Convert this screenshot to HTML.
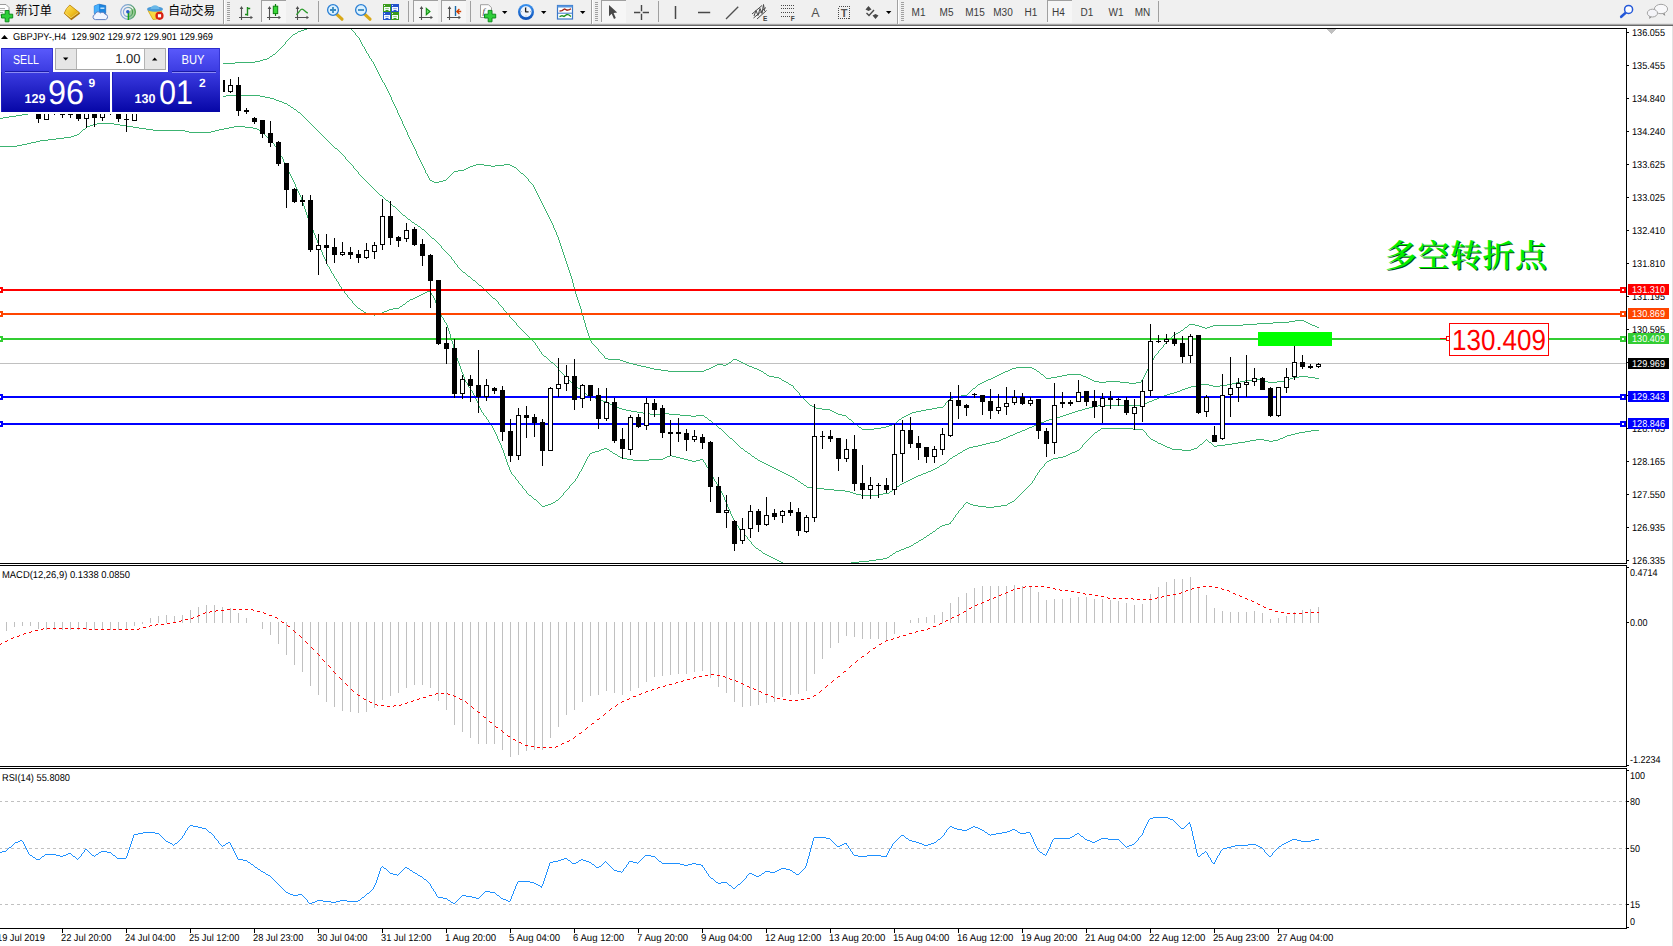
<!DOCTYPE html>
<html lang="zh"><head><meta charset="utf-8"><title>GBPJPY-,H4</title>
<style>html,body{margin:0;padding:0;background:#fff;overflow:hidden}body{width:1673px;height:946px;position:relative;font-family:"Liberation Sans","Noto Sans CJK SC",sans-serif}</style>
</head><body>
<svg width="1673" height="946" viewBox="0 0 1673 946" style="position:absolute;left:0;top:0" shape-rendering="crispEdges">
<defs><clipPath id="cm"><rect x="0" y="29" width="1626" height="534"/></clipPath><clipPath id="cr"><rect x="0" y="769" width="1626" height="159"/></clipPath><linearGradient id="gb" x1="0" y1="0" x2="0" y2="1"><stop offset="0" stop-color="#5252f4"/><stop offset="0.35" stop-color="#3030d8"/><stop offset="1" stop-color="#0808b0"/></linearGradient></defs>
<rect x="0" y="28" width="1627" height="1" fill="#000"/>
<rect x="1626" y="28" width="1" height="901" fill="#000"/>
<rect x="0" y="563" width="1627" height="1" fill="#000"/>
<rect x="0" y="564" width="1627" height="1" fill="#fff"/>
<rect x="0" y="565" width="1627" height="1" fill="#000"/>
<rect x="0" y="766" width="1627" height="1" fill="#000"/>
<rect x="0" y="767" width="1627" height="1" fill="#fff"/>
<rect x="0" y="768" width="1627" height="1" fill="#000"/>
<rect x="0" y="928" width="1627" height="1" fill="#000"/>
<rect x="1672" y="26" width="1" height="920" fill="#e3e3e3"/>
<g clip-path="url(#cm)">
<rect x="0" y="363" width="1626" height="1" fill="#c0c0c0"/>
<path d="M325 22h11v1h-11zM322 23h3v1h-3zM336 23h9v1h-9zM318 24h4v1h-4zM345 24h1v1h-1zM315 25h3v1h-3zM346 25h2v1h-2zM312 26h3v1h-3zM348 26h1v1h-1zM309 27h3v1h-3zM349 27h1v1h-1zM307 28h2v1h-2zM350 28h1v1h-1zM304 29h3v1h-3zM351 29h1v1h-1zM301 30h3v1h-3zM352 30h1v1h-1zM298 31h3v1h-3zM353 31h1v1h-1zM297 32h1v1h-1zM354 32h1v1h-1zM295 33h2v1h-2zM355 33h1v2h-1zM293 34h2v1h-2zM292 35h1v1h-1zM356 35h1v1h-1zM291 36h1v1h-1zM357 36h1v1h-1zM290 37h1v1h-1zM358 37h1v1h-1zM289 38h1v1h-1zM359 38h1v2h-1zM288 39h1v1h-1zM287 40h1v1h-1zM360 40h1v2h-1zM286 41h1v1h-1zM285 42h1v2h-1zM361 42h1v2h-1zM284 44h1v1h-1zM362 44h1v2h-1zM283 45h1v1h-1zM282 46h1v1h-1zM363 46h1v1h-1zM281 47h1v1h-1zM364 47h1v2h-1zM280 48h1v1h-1zM279 49h1v1h-1zM365 49h1v2h-1zM278 50h1v1h-1zM277 51h1v1h-1zM366 51h1v2h-1zM276 52h1v1h-1zM275 53h1v1h-1zM367 53h1v1h-1zM273 54h2v1h-2zM368 54h1v2h-1zM272 55h1v1h-1zM270 56h2v1h-2zM369 56h1v2h-1zM269 57h1v1h-1zM267 58h2v1h-2zM370 58h1v1h-1zM263 59h4v1h-4zM371 59h1v2h-1zM260 60h3v1h-3zM255 61h5v1h-5zM372 61h1v1h-1zM235 62h20v1h-20zM373 62h1v2h-1zM215 63h20v1h-20zM374 64h1v2h-1zM375 66h1v2h-1zM376 68h1v2h-1zM377 70h1v2h-1zM378 72h1v2h-1zM379 74h1v2h-1zM380 76h1v2h-1zM381 78h1v2h-1zM382 80h1v2h-1zM383 82h1v1h-1zM384 83h1v2h-1zM385 85h1v2h-1zM386 87h1v2h-1zM387 89h1v2h-1zM388 91h1v2h-1zM389 93h1v2h-1zM390 95h1v2h-1zM391 97h1v3h-1zM392 100h1v2h-1zM393 102h1v2h-1zM394 104h1v2h-1zM395 106h1v2h-1zM396 108h1v2h-1zM397 110h1v3h-1zM398 113h1v2h-1zM399 115h1v2h-1zM400 117h1v2h-1zM401 119h1v2h-1zM402 121h1v3h-1zM403 124h1v2h-1zM404 126h1v2h-1zM405 128h1v2h-1zM406 130h1v2h-1zM407 132h1v3h-1zM408 135h1v2h-1zM409 137h1v2h-1zM410 139h1v2h-1zM411 141h1v2h-1zM412 143h1v2h-1zM413 145h1v2h-1zM414 147h1v2h-1zM415 149h1v2h-1zM416 151h1v3h-1zM417 154h1v2h-1zM418 156h1v2h-1zM419 158h1v2h-1zM420 160h1v2h-1zM421 162h1v2h-1zM476 164h8v1h-8zM504 164h6v1h-6zM422 164h1v2h-1zM473 165h3v1h-3zM484 165h7v1h-7zM495 165h9v1h-9zM510 165h2v1h-2zM470 166h3v1h-3zM491 166h4v1h-4zM512 166h2v1h-2zM423 166h1v2h-1zM468 167h2v1h-2zM514 167h2v1h-2zM466 168h2v1h-2zM516 168h1v1h-1zM424 168h1v2h-1zM464 169h2v1h-2zM517 169h1v1h-1zM458 170h6v1h-6zM518 170h1v1h-1zM425 170h1v3h-1zM454 171h4v1h-4zM519 171h1v1h-1zM453 172h1v1h-1zM520 172h1v1h-1zM426 173h1v1h-1zM452 173h1v1h-1zM521 173h2v1h-2zM451 174h1v1h-1zM523 174h1v1h-1zM427 174h1v2h-1zM450 175h1v1h-1zM524 175h1v1h-1zM449 176h1v1h-1zM525 176h1v1h-1zM428 176h1v2h-1zM448 177h1v1h-1zM526 177h1v1h-1zM447 178h1v1h-1zM527 178h1v1h-1zM429 178h1v2h-1zM446 179h1v1h-1zM528 179h1v2h-1zM430 180h2v1h-2zM443 180h3v1h-3zM432 181h2v1h-2zM439 181h4v1h-4zM529 181h1v1h-1zM434 182h5v1h-5zM530 182h1v1h-1zM531 183h1v1h-1zM532 184h1v1h-1zM533 185h1v2h-1zM534 187h1v2h-1zM535 189h1v2h-1zM536 191h1v2h-1zM537 193h1v2h-1zM538 195h1v2h-1zM539 197h1v2h-1zM540 199h1v2h-1zM541 201h1v2h-1zM542 203h1v2h-1zM543 205h1v2h-1zM544 207h1v2h-1zM545 209h1v2h-1zM546 211h1v2h-1zM547 213h1v2h-1zM548 215h1v2h-1zM549 217h1v2h-1zM550 219h1v2h-1zM551 221h1v2h-1zM552 223h1v2h-1zM553 225h1v3h-1zM554 228h1v2h-1zM555 230h1v2h-1zM556 232h1v3h-1zM557 235h1v2h-1zM558 237h1v3h-1zM559 240h1v3h-1zM560 243h1v3h-1zM561 246h1v3h-1zM562 249h1v3h-1zM563 252h1v3h-1zM564 255h1v3h-1zM565 258h1v3h-1zM566 261h1v3h-1zM567 264h1v3h-1zM568 267h1v3h-1zM569 270h1v3h-1zM570 273h1v3h-1zM571 276h1v3h-1zM572 279h1v4h-1zM573 283h1v4h-1zM574 287h1v3h-1zM575 290h1v4h-1zM576 294h1v3h-1zM577 297h1v3h-1zM578 300h1v3h-1zM579 303h1v3h-1zM580 306h1v3h-1zM581 309h1v4h-1zM582 313h1v3h-1zM583 316h1v4h-1zM1295 320h9v1h-9zM584 320h1v3h-1zM1289 321h6v1h-6zM1304 321h2v1h-2zM1273 322h16v1h-16zM1306 322h2v1h-2zM1257 323h16v1h-16zM1308 323h2v1h-2zM585 323h1v4h-1zM1189 324h6v1h-6zM1243 324h14v1h-14zM1310 324h2v1h-2zM1188 325h1v1h-1zM1195 325h4v1h-4zM1213 325h30v1h-30zM1312 325h3v1h-3zM1187 326h1v1h-1zM1199 326h3v1h-3zM1210 326h3v1h-3zM1315 326h2v1h-2zM1185 327h2v1h-2zM1202 327h3v1h-3zM1207 327h3v1h-3zM1317 327h2v1h-2zM586 327h1v3h-1zM1184 328h1v1h-1zM1205 328h2v1h-2zM1183 329h1v1h-1zM1181 330h2v1h-2zM587 330h1v3h-1zM1180 331h1v1h-1zM1178 332h2v1h-2zM1176 333h2v1h-2zM588 333h1v3h-1zM1174 334h2v1h-2zM1173 335h1v1h-1zM1172 336h1v1h-1zM589 336h1v3h-1zM1171 337h1v1h-1zM1170 338h1v1h-1zM1169 339h1v1h-1zM590 339h1v2h-1zM1168 340h1v1h-1zM1167 341h1v1h-1zM591 341h1v2h-1zM1166 342h1v1h-1zM592 343h1v1h-1zM1165 343h1v1h-1zM593 344h1v1h-1zM1164 344h1v1h-1zM594 345h1v1h-1zM1163 345h1v2h-1zM595 346h1v1h-1zM596 347h1v1h-1zM1162 347h1v1h-1zM597 348h1v1h-1zM1161 348h1v1h-1zM1160 349h1v1h-1zM598 349h1v2h-1zM1159 350h1v1h-1zM599 351h1v1h-1zM1158 351h1v2h-1zM600 352h1v1h-1zM601 353h1v1h-1zM1157 353h1v1h-1zM602 354h1v1h-1zM1156 354h1v1h-1zM603 355h1v1h-1zM1155 355h1v1h-1zM604 356h1v2h-1zM1154 356h1v2h-1zM605 358h3v1h-3zM1153 358h1v2h-1zM608 359h12v1h-12zM733 359h4v1h-4zM620 360h3v1h-3zM732 360h1v1h-1zM737 360h2v1h-2zM1152 360h1v2h-1zM623 361h3v1h-3zM731 361h1v1h-1zM739 361h2v1h-2zM626 362h3v1h-3zM729 362h2v1h-2zM741 362h2v1h-2zM1151 362h1v1h-1zM629 363h4v1h-4zM728 363h1v1h-1zM743 363h2v1h-2zM1150 363h1v2h-1zM633 364h4v1h-4zM717 364h6v1h-6zM726 364h2v1h-2zM745 364h2v1h-2zM637 365h4v1h-4zM715 365h2v1h-2zM723 365h3v1h-3zM747 365h2v1h-2zM1149 365h1v2h-1zM641 366h5v1h-5zM713 366h2v1h-2zM749 366h3v1h-3zM646 367h4v1h-4zM711 367h2v1h-2zM752 367h2v1h-2zM1016 367h16v1h-16zM1148 367h1v2h-1zM650 368h4v1h-4zM709 368h2v1h-2zM754 368h3v1h-3zM1012 368h4v1h-4zM1032 368h2v1h-2zM654 369h7v1h-7zM706 369h3v1h-3zM757 369h2v1h-2zM1010 369h2v1h-2zM1034 369h2v1h-2zM1147 369h1v2h-1zM661 370h7v1h-7zM704 370h2v1h-2zM759 370h2v1h-2zM1008 370h2v1h-2zM1036 370h1v1h-1zM668 371h36v1h-36zM761 371h2v1h-2zM1005 371h3v1h-3zM1037 371h2v1h-2zM1146 371h1v2h-1zM763 372h1v1h-1zM1003 372h2v1h-2zM1039 372h1v1h-1zM764 373h2v1h-2zM1001 373h2v1h-2zM1040 373h1v1h-1zM1145 373h1v2h-1zM766 374h1v1h-1zM999 374h2v1h-2zM1041 374h2v1h-2zM1067 374h14v1h-14zM767 375h2v1h-2zM997 375h2v1h-2zM1043 375h1v1h-1zM1062 375h5v1h-5zM1081 375h2v1h-2zM1144 375h1v2h-1zM769 376h5v1h-5zM995 376h2v1h-2zM1044 376h1v1h-1zM1057 376h5v1h-5zM1083 376h3v1h-3zM774 377h5v1h-5zM993 377h2v1h-2zM1045 377h1v1h-1zM1051 377h6v1h-6zM1086 377h2v1h-2zM1143 377h1v2h-1zM779 378h2v1h-2zM991 378h2v1h-2zM1046 378h5v1h-5zM1088 378h2v1h-2zM781 379h1v1h-1zM988 379h3v1h-3zM1090 379h2v1h-2zM1142 379h1v1h-1zM782 380h2v1h-2zM986 380h2v1h-2zM1092 380h2v1h-2zM1141 380h1v2h-1zM784 381h2v1h-2zM984 381h2v1h-2zM1094 381h5v1h-5zM1106 381h14v1h-14zM786 382h2v1h-2zM982 382h2v1h-2zM1099 382h7v1h-7zM1120 382h9v1h-9zM1136 382h5v1h-5zM788 383h1v1h-1zM980 383h2v1h-2zM1129 383h7v1h-7zM789 384h2v1h-2zM978 384h2v1h-2zM791 385h2v1h-2zM977 385h1v1h-1zM976 386h1v1h-1zM793 386h1v2h-1zM975 387h1v1h-1zM794 388h1v1h-1zM973 388h2v1h-2zM795 389h1v1h-1zM972 389h1v1h-1zM796 390h1v1h-1zM971 390h1v1h-1zM797 391h1v1h-1zM970 391h1v1h-1zM798 392h1v1h-1zM969 392h1v1h-1zM968 393h1v1h-1zM799 393h1v2h-1zM967 394h1v1h-1zM800 395h1v1h-1zM961 395h6v1h-6zM801 396h1v1h-1zM957 396h4v1h-4zM802 397h1v1h-1zM953 397h4v1h-4zM803 398h1v1h-1zM950 398h3v1h-3zM804 399h1v1h-1zM949 399h1v1h-1zM805 400h1v1h-1zM948 400h1v1h-1zM806 401h1v1h-1zM947 401h1v1h-1zM807 402h1v1h-1zM946 402h1v1h-1zM808 403h1v1h-1zM945 403h1v2h-1zM809 404h1v1h-1zM810 405h2v1h-2zM944 405h1v1h-1zM812 406h2v1h-2zM943 406h1v1h-1zM814 407h2v1h-2zM937 407h6v1h-6zM816 408h6v1h-6zM932 408h5v1h-5zM822 409h8v1h-8zM926 409h6v1h-6zM830 410h2v1h-2zM921 410h5v1h-5zM832 411h2v1h-2zM916 411h5v1h-5zM834 412h2v1h-2zM912 412h4v1h-4zM836 413h2v1h-2zM910 413h2v1h-2zM838 414h4v1h-4zM908 414h2v1h-2zM842 415h4v1h-4zM906 415h2v1h-2zM846 416h1v1h-1zM904 416h2v1h-2zM847 417h1v1h-1zM902 417h2v1h-2zM848 418h1v1h-1zM901 418h1v1h-1zM849 419h2v1h-2zM899 419h2v1h-2zM851 420h1v1h-1zM898 420h1v1h-1zM852 421h1v1h-1zM897 421h1v1h-1zM853 422h1v1h-1zM896 422h1v1h-1zM854 423h2v1h-2zM894 423h2v1h-2zM856 424h1v1h-1zM892 424h2v1h-2zM857 425h1v1h-1zM889 425h3v1h-3zM858 426h1v1h-1zM886 426h3v1h-3zM859 427h2v1h-2zM881 427h5v1h-5zM861 428h1v1h-1zM874 428h7v1h-7zM862 429h12v1h-12z" fill="#3cb371"/>
<path d="M226 95h34v1h-34zM212 96h14v1h-14zM260 96h5v1h-5zM188 97h24v1h-24zM265 97h5v1h-5zM164 98h24v1h-24zM270 98h4v1h-4zM140 99h24v1h-24zM274 99h2v1h-2zM130 100h10v1h-10zM276 100h3v1h-3zM120 101h10v1h-10zM279 101h3v1h-3zM110 102h10v1h-10zM282 102h2v1h-2zM100 103h10v1h-10zM284 103h3v1h-3zM90 104h10v1h-10zM287 104h1v1h-1zM80 105h10v1h-10zM288 105h2v1h-2zM70 106h10v1h-10zM290 106h1v1h-1zM60 107h10v1h-10zM291 107h2v1h-2zM55 108h5v1h-5zM293 108h1v1h-1zM49 109h6v1h-6zM294 109h2v1h-2zM44 110h5v1h-5zM296 110h1v1h-1zM39 111h5v1h-5zM297 111h1v1h-1zM33 112h6v1h-6zM298 112h2v1h-2zM28 113h5v1h-5zM300 113h1v1h-1zM22 114h6v1h-6zM301 114h1v1h-1zM16 115h6v1h-6zM302 115h1v1h-1zM9 116h7v1h-7zM303 116h1v1h-1zM3 117h6v1h-6zM304 117h1v1h-1zM0 118h3v1h-3zM305 118h1v1h-1zM306 119h1v1h-1zM307 120h1v1h-1zM308 121h1v1h-1zM309 122h1v1h-1zM310 123h1v1h-1zM311 124h1v1h-1zM312 125h1v1h-1zM313 126h1v1h-1zM314 127h1v1h-1zM315 128h1v1h-1zM316 129h1v1h-1zM317 130h1v1h-1zM318 131h1v1h-1zM319 132h1v1h-1zM320 133h1v1h-1zM321 134h1v1h-1zM322 135h1v1h-1zM323 136h1v1h-1zM324 137h1v1h-1zM325 138h1v1h-1zM326 139h1v1h-1zM327 140h1v1h-1zM328 141h1v1h-1zM329 142h1v1h-1zM330 143h1v1h-1zM331 144h1v1h-1zM332 145h1v1h-1zM333 146h1v1h-1zM334 147h1v1h-1zM335 148h2v1h-2zM337 149h1v1h-1zM338 150h1v1h-1zM339 151h1v1h-1zM340 152h1v1h-1zM341 153h1v1h-1zM342 154h1v1h-1zM343 155h1v1h-1zM344 156h1v1h-1zM345 157h1v2h-1zM346 159h1v1h-1zM347 160h1v1h-1zM348 161h1v1h-1zM349 162h1v1h-1zM350 163h1v1h-1zM351 164h1v1h-1zM352 165h1v1h-1zM353 166h1v2h-1zM354 168h1v1h-1zM355 169h1v1h-1zM356 170h1v1h-1zM357 171h1v1h-1zM358 172h1v2h-1zM359 174h1v1h-1zM360 175h1v1h-1zM361 176h1v1h-1zM362 177h1v1h-1zM363 178h1v1h-1zM364 179h1v1h-1zM365 180h1v1h-1zM366 181h1v1h-1zM367 182h1v1h-1zM368 183h1v1h-1zM369 184h1v1h-1zM370 185h1v1h-1zM371 186h1v1h-1zM372 187h1v1h-1zM373 188h1v1h-1zM374 189h1v1h-1zM375 190h1v1h-1zM376 191h1v1h-1zM377 192h1v1h-1zM378 193h1v1h-1zM379 194h1v1h-1zM380 195h2v1h-2zM382 196h1v1h-1zM383 197h1v1h-1zM384 198h1v1h-1zM385 199h1v1h-1zM386 200h2v1h-2zM388 201h1v1h-1zM389 202h1v1h-1zM390 203h1v1h-1zM391 204h1v1h-1zM392 205h1v1h-1zM393 206h2v1h-2zM395 207h1v1h-1zM396 208h1v1h-1zM397 209h1v1h-1zM398 210h1v1h-1zM399 211h1v1h-1zM400 212h1v1h-1zM401 213h1v1h-1zM402 214h1v1h-1zM403 215h2v1h-2zM405 216h1v1h-1zM406 217h1v1h-1zM407 218h1v1h-1zM408 219h2v1h-2zM410 220h1v1h-1zM411 221h1v1h-1zM412 222h2v1h-2zM414 223h1v1h-1zM415 224h2v1h-2zM417 225h1v1h-1zM418 226h2v1h-2zM420 227h1v1h-1zM421 228h1v1h-1zM422 229h2v1h-2zM424 230h1v1h-1zM425 231h1v1h-1zM426 232h1v1h-1zM427 233h1v1h-1zM428 234h1v1h-1zM429 235h1v1h-1zM430 236h1v1h-1zM431 237h1v1h-1zM432 238h2v1h-2zM434 239h1v1h-1zM435 240h1v1h-1zM436 241h1v1h-1zM437 242h1v1h-1zM438 243h1v1h-1zM439 244h1v1h-1zM440 245h1v1h-1zM441 246h1v2h-1zM442 248h1v1h-1zM443 249h1v1h-1zM444 250h1v1h-1zM445 251h1v1h-1zM446 252h1v1h-1zM447 253h1v1h-1zM448 254h1v1h-1zM449 255h1v1h-1zM450 256h1v1h-1zM451 257h1v2h-1zM452 259h1v1h-1zM453 260h1v1h-1zM454 261h1v2h-1zM455 263h1v1h-1zM456 264h1v1h-1zM457 265h1v2h-1zM458 267h1v1h-1zM459 268h1v1h-1zM460 269h1v1h-1zM461 270h1v1h-1zM462 271h1v1h-1zM463 272h2v1h-2zM465 273h1v1h-1zM466 274h1v1h-1zM467 275h1v1h-1zM468 276h2v1h-2zM470 277h1v1h-1zM471 278h1v1h-1zM472 279h1v1h-1zM473 280h2v1h-2zM475 281h1v1h-1zM476 282h1v1h-1zM477 283h1v1h-1zM478 284h1v1h-1zM479 285h2v1h-2zM481 286h1v1h-1zM482 287h1v1h-1zM483 288h1v1h-1zM484 289h1v1h-1zM485 290h1v1h-1zM486 291h1v1h-1zM487 292h1v1h-1zM488 293h1v1h-1zM489 294h1v1h-1zM490 295h1v1h-1zM491 296h1v1h-1zM492 297h1v1h-1zM493 298h2v1h-2zM495 299h1v1h-1zM496 300h1v1h-1zM497 301h1v1h-1zM498 302h1v2h-1zM499 304h1v1h-1zM500 305h1v1h-1zM501 306h1v1h-1zM502 307h1v1h-1zM503 308h1v2h-1zM504 310h1v1h-1zM505 311h1v1h-1zM506 312h1v1h-1zM507 313h1v1h-1zM508 314h1v1h-1zM509 315h1v2h-1zM510 317h1v1h-1zM511 318h1v1h-1zM512 319h1v1h-1zM513 320h1v1h-1zM514 321h1v1h-1zM515 322h1v1h-1zM516 323h1v2h-1zM517 325h1v1h-1zM518 326h1v1h-1zM519 327h1v1h-1zM520 328h1v1h-1zM521 329h1v1h-1zM522 330h1v1h-1zM523 331h1v1h-1zM524 332h1v1h-1zM525 333h1v1h-1zM526 334h1v1h-1zM527 335h1v1h-1zM528 336h1v1h-1zM529 337h1v1h-1zM530 338h1v1h-1zM531 339h1v1h-1zM532 340h1v1h-1zM533 341h1v1h-1zM534 342h1v1h-1zM535 343h1v2h-1zM536 345h1v1h-1zM537 346h1v2h-1zM538 348h1v1h-1zM539 349h1v2h-1zM540 351h1v1h-1zM541 352h1v2h-1zM542 354h1v1h-1zM543 355h1v1h-1zM544 356h2v1h-2zM546 357h1v1h-1zM547 358h1v1h-1zM548 359h1v1h-1zM549 360h1v1h-1zM550 361h1v1h-1zM551 362h2v1h-2zM553 363h1v1h-1zM554 364h1v1h-1zM555 365h1v1h-1zM556 366h1v1h-1zM557 367h1v1h-1zM558 368h1v2h-1zM559 370h1v1h-1zM560 371h1v1h-1zM561 372h1v1h-1zM562 373h1v1h-1zM563 374h1v1h-1zM564 375h1v1h-1zM565 376h1v1h-1zM1299 376h9v1h-9zM566 377h1v1h-1zM1293 377h6v1h-6zM1308 377h7v1h-7zM567 378h1v1h-1zM1290 378h3v1h-3zM1315 378h4v1h-4zM568 379h1v1h-1zM1255 379h7v1h-7zM1287 379h3v1h-3zM569 380h1v1h-1zM1245 380h10v1h-10zM1262 380h3v1h-3zM1284 380h3v1h-3zM570 381h1v1h-1zM1240 381h5v1h-5zM1265 381h3v1h-3zM1277 381h7v1h-7zM571 382h2v1h-2zM1236 382h4v1h-4zM1268 382h9v1h-9zM573 383h1v1h-1zM1232 383h4v1h-4zM574 384h1v1h-1zM1200 384h9v1h-9zM1227 384h5v1h-5zM575 385h1v1h-1zM1196 385h4v1h-4zM1209 385h4v1h-4zM1220 385h7v1h-7zM576 386h1v1h-1zM1191 386h5v1h-5zM1213 386h7v1h-7zM577 387h1v1h-1zM1188 387h3v1h-3zM578 388h2v1h-2zM1185 388h3v1h-3zM580 389h1v1h-1zM1182 389h3v1h-3zM581 390h1v1h-1zM1180 390h2v1h-2zM582 391h1v1h-1zM1177 391h3v1h-3zM583 392h2v1h-2zM1174 392h3v1h-3zM585 393h1v1h-1zM1170 393h4v1h-4zM586 394h1v1h-1zM1167 394h3v1h-3zM587 395h3v1h-3zM1164 395h3v1h-3zM590 396h2v1h-2zM1162 396h2v1h-2zM592 397h3v1h-3zM1159 397h3v1h-3zM595 398h2v1h-2zM1157 398h2v1h-2zM597 399h3v1h-3zM1154 399h3v1h-3zM600 400h3v1h-3zM1152 400h2v1h-2zM603 401h3v1h-3zM1149 401h3v1h-3zM606 402h2v1h-2zM1147 402h2v1h-2zM608 403h2v1h-2zM1144 403h3v1h-3zM610 404h2v1h-2zM1142 404h2v1h-2zM612 405h2v1h-2zM1098 405h44v1h-44zM614 406h2v1h-2zM1093 406h5v1h-5zM616 407h3v1h-3zM1089 407h4v1h-4zM619 408h3v1h-3zM1085 408h4v1h-4zM622 409h4v1h-4zM1082 409h3v1h-3zM626 410h5v1h-5zM1078 410h4v1h-4zM631 411h6v1h-6zM1075 411h3v1h-3zM637 412h6v1h-6zM1072 412h3v1h-3zM643 413h7v1h-7zM660 413h9v1h-9zM1069 413h3v1h-3zM650 414h10v1h-10zM669 414h11v1h-11zM1066 414h3v1h-3zM680 415h11v1h-11zM696 415h8v1h-8zM1063 415h3v1h-3zM691 416h5v1h-5zM704 416h1v1h-1zM1060 416h3v1h-3zM705 417h2v1h-2zM1057 417h3v1h-3zM707 418h1v1h-1zM1053 418h4v1h-4zM708 419h1v1h-1zM1049 419h4v1h-4zM709 420h2v1h-2zM1046 420h3v1h-3zM711 421h1v1h-1zM1044 421h2v1h-2zM712 422h1v1h-1zM1041 422h3v1h-3zM713 423h1v1h-1zM1039 423h2v1h-2zM714 424h2v1h-2zM1037 424h2v1h-2zM716 425h1v1h-1zM1034 425h3v1h-3zM717 426h1v1h-1zM1032 426h2v1h-2zM718 427h1v1h-1zM1029 427h3v1h-3zM719 428h2v1h-2zM1027 428h2v1h-2zM721 429h1v1h-1zM1025 429h2v1h-2zM722 430h1v1h-1zM1022 430h3v1h-3zM723 431h1v1h-1zM1020 431h2v1h-2zM724 432h1v1h-1zM1017 432h3v1h-3zM725 433h1v1h-1zM1015 433h2v1h-2zM726 434h1v1h-1zM1013 434h2v1h-2zM727 435h1v1h-1zM1010 435h3v1h-3zM728 436h1v1h-1zM1008 436h2v1h-2zM729 437h1v1h-1zM1006 437h2v1h-2zM730 438h2v1h-2zM1003 438h3v1h-3zM732 439h1v1h-1zM1001 439h2v1h-2zM733 440h1v1h-1zM999 440h2v1h-2zM734 441h1v1h-1zM995 441h4v1h-4zM735 442h1v1h-1zM990 442h5v1h-5zM736 443h1v1h-1zM986 443h4v1h-4zM737 444h1v1h-1zM982 444h4v1h-4zM738 445h1v1h-1zM978 445h4v1h-4zM739 446h1v1h-1zM973 446h5v1h-5zM740 447h1v1h-1zM969 447h4v1h-4zM741 448h2v1h-2zM967 448h2v1h-2zM743 449h1v1h-1zM965 449h2v1h-2zM744 450h1v1h-1zM963 450h2v1h-2zM745 451h2v1h-2zM962 451h1v1h-1zM747 452h1v1h-1zM960 452h2v1h-2zM748 453h2v1h-2zM958 453h2v1h-2zM750 454h1v1h-1zM957 454h1v1h-1zM751 455h1v1h-1zM955 455h2v1h-2zM752 456h2v1h-2zM953 456h2v1h-2zM754 457h1v1h-1zM952 457h1v1h-1zM755 458h2v1h-2zM950 458h2v1h-2zM757 459h1v1h-1zM949 459h1v1h-1zM758 460h2v1h-2zM948 460h1v1h-1zM760 461h2v1h-2zM947 461h1v1h-1zM762 462h2v1h-2zM946 462h1v1h-1zM764 463h2v1h-2zM944 463h2v1h-2zM766 464h2v1h-2zM942 464h2v1h-2zM768 465h2v1h-2zM940 465h2v1h-2zM770 466h2v1h-2zM939 466h1v1h-1zM772 467h2v1h-2zM937 467h2v1h-2zM774 468h2v1h-2zM935 468h2v1h-2zM776 469h2v1h-2zM933 469h2v1h-2zM778 470h2v1h-2zM931 470h2v1h-2zM780 471h2v1h-2zM928 471h3v1h-3zM782 472h2v1h-2zM926 472h2v1h-2zM784 473h2v1h-2zM923 473h3v1h-3zM786 474h2v1h-2zM921 474h2v1h-2zM788 475h2v1h-2zM918 475h3v1h-3zM790 476h2v1h-2zM916 476h2v1h-2zM792 477h2v1h-2zM914 477h2v1h-2zM794 478h1v1h-1zM912 478h2v1h-2zM795 479h2v1h-2zM910 479h2v1h-2zM797 480h1v1h-1zM908 480h2v1h-2zM798 481h2v1h-2zM906 481h2v1h-2zM800 482h1v1h-1zM904 482h2v1h-2zM801 483h2v1h-2zM902 483h2v1h-2zM803 484h1v1h-1zM900 484h2v1h-2zM804 485h2v1h-2zM899 485h1v1h-1zM806 486h1v1h-1zM897 486h2v1h-2zM807 487h7v1h-7zM896 487h1v1h-1zM814 488h10v1h-10zM895 488h1v1h-1zM824 489h10v1h-10zM893 489h2v1h-2zM834 490h11v1h-11zM892 490h1v1h-1zM845 491h5v1h-5zM890 491h2v1h-2zM850 492h3v1h-3zM889 492h1v1h-1zM853 493h3v1h-3zM883 493h6v1h-6zM856 494h5v1h-5zM878 494h5v1h-5zM861 495h17v1h-17z" fill="#3cb371"/>
<path d="M97 123h17v1h-17zM93 124h4v1h-4zM114 124h6v1h-6zM90 125h3v1h-3zM120 125h6v1h-6zM87 126h3v1h-3zM126 126h7v1h-7zM234 126h11v1h-11zM86 127h1v1h-1zM133 127h6v1h-6zM229 127h5v1h-5zM245 127h8v1h-8zM85 128h1v1h-1zM139 128h7v1h-7zM224 128h5v1h-5zM253 128h4v1h-4zM83 129h2v1h-2zM146 129h7v1h-7zM219 129h5v1h-5zM257 129h2v1h-2zM82 130h1v1h-1zM153 130h32v1h-32zM215 130h4v1h-4zM259 130h1v1h-1zM81 131h1v1h-1zM185 131h4v1h-4zM211 131h4v1h-4zM260 131h1v1h-1zM80 132h1v1h-1zM189 132h22v1h-22zM261 132h1v1h-1zM79 133h1v1h-1zM262 133h2v1h-2zM77 134h2v1h-2zM264 134h1v1h-1zM74 135h3v1h-3zM265 135h1v1h-1zM71 136h3v1h-3zM266 136h1v1h-1zM64 137h7v1h-7zM267 137h1v1h-1zM56 138h8v1h-8zM268 138h1v1h-1zM48 139h8v1h-8zM269 139h1v1h-1zM40 140h8v1h-8zM270 140h1v1h-1zM36 141h4v1h-4zM271 141h1v1h-1zM31 142h5v1h-5zM272 142h1v1h-1zM27 143h4v1h-4zM273 143h1v1h-1zM22 144h5v1h-5zM274 144h1v2h-1zM17 145h5v1h-5zM0 146h17v1h-17zM275 146h1v1h-1zM276 147h1v2h-1zM277 149h1v2h-1zM278 151h1v1h-1zM279 152h1v2h-1zM280 154h1v2h-1zM281 156h1v1h-1zM282 157h1v2h-1zM283 159h1v3h-1zM284 162h1v2h-1zM285 164h1v2h-1zM286 166h1v2h-1zM287 168h1v2h-1zM288 170h1v2h-1zM289 172h1v2h-1zM290 174h1v2h-1zM291 176h1v2h-1zM292 178h1v2h-1zM293 180h1v2h-1zM294 182h1v2h-1zM295 184h1v3h-1zM296 187h1v2h-1zM297 189h1v2h-1zM298 191h1v2h-1zM299 193h1v2h-1zM300 195h1v2h-1zM301 197h1v3h-1zM302 200h1v3h-1zM303 203h1v3h-1zM304 206h1v3h-1zM305 209h1v3h-1zM306 212h1v3h-1zM307 215h1v3h-1zM308 218h1v2h-1zM309 220h1v3h-1zM310 223h1v2h-1zM311 225h1v3h-1zM312 228h1v2h-1zM313 230h1v3h-1zM314 233h1v2h-1zM315 235h1v3h-1zM316 238h1v2h-1zM317 240h1v3h-1zM318 243h1v2h-1zM319 245h1v3h-1zM320 248h1v2h-1zM321 250h1v2h-1zM322 252h1v3h-1zM323 255h1v2h-1zM324 257h1v2h-1zM325 259h1v2h-1zM326 261h1v3h-1zM327 264h1v2h-1zM328 266h1v1h-1zM329 267h1v2h-1zM330 269h1v2h-1zM331 271h1v2h-1zM332 273h1v1h-1zM333 274h1v2h-1zM334 276h1v2h-1zM335 278h1v1h-1zM336 279h1v2h-1zM337 281h1v1h-1zM338 282h1v2h-1zM339 284h1v2h-1zM340 286h1v1h-1zM341 287h1v2h-1zM342 289h1v1h-1zM343 290h1v1h-1zM429 290h1v2h-1zM427 291h2v1h-2zM344 291h1v2h-1zM425 292h2v1h-2zM430 292h1v1h-1zM345 293h1v1h-1zM423 293h2v1h-2zM431 293h1v2h-1zM346 294h1v1h-1zM421 294h2v1h-2zM419 295h2v1h-2zM432 295h1v1h-1zM347 295h1v2h-1zM417 296h2v1h-2zM433 296h1v2h-1zM348 297h1v1h-1zM415 297h2v1h-2zM349 298h1v1h-1zM413 298h2v1h-2zM434 298h1v2h-1zM350 299h1v1h-1zM410 299h3v1h-3zM351 300h1v1h-1zM409 300h1v1h-1zM435 300h1v3h-1zM407 301h2v1h-2zM352 301h1v2h-1zM406 302h1v1h-1zM353 303h1v1h-1zM405 303h1v1h-1zM436 303h1v2h-1zM354 304h1v1h-1zM403 304h2v1h-2zM355 305h1v1h-1zM402 305h1v1h-1zM437 305h1v2h-1zM356 306h1v1h-1zM400 306h2v1h-2zM357 307h1v1h-1zM399 307h1v1h-1zM438 307h1v3h-1zM358 308h2v1h-2zM393 308h6v1h-6zM360 309h1v1h-1zM389 309h4v1h-4zM361 310h2v1h-2zM387 310h2v1h-2zM439 310h1v2h-1zM363 311h1v1h-1zM384 311h3v1h-3zM364 312h2v1h-2zM382 312h2v1h-2zM440 312h1v2h-1zM366 313h4v1h-4zM379 313h3v1h-3zM370 314h4v1h-4zM375 314h4v1h-4zM441 314h1v3h-1zM374 315h1v1h-1zM442 317h1v1h-1zM443 318h1v2h-1zM444 320h1v2h-1zM445 322h1v1h-1zM446 323h1v2h-1zM447 325h1v3h-1zM448 328h1v3h-1zM449 331h1v3h-1zM450 334h1v4h-1zM451 338h1v3h-1zM452 341h1v3h-1zM453 344h1v4h-1zM454 348h1v3h-1zM455 351h1v4h-1zM456 355h1v3h-1zM457 358h1v3h-1zM458 361h1v2h-1zM459 363h1v3h-1zM460 366h1v3h-1zM461 369h1v3h-1zM462 372h1v2h-1zM463 374h1v3h-1zM464 377h1v3h-1zM465 380h1v2h-1zM466 382h1v1h-1zM467 383h1v2h-1zM468 385h1v2h-1zM469 387h1v1h-1zM470 388h1v2h-1zM471 390h1v1h-1zM472 391h1v2h-1zM473 393h1v2h-1zM474 395h1v2h-1zM475 397h1v2h-1zM476 399h1v2h-1zM477 401h1v2h-1zM478 403h1v3h-1zM479 406h1v2h-1zM480 408h1v2h-1zM481 410h1v2h-1zM482 412h1v1h-1zM483 413h1v2h-1zM484 415h1v1h-1zM485 416h1v1h-1zM486 417h1v2h-1zM487 419h1v1h-1zM488 420h1v2h-1zM489 422h1v1h-1zM490 423h1v2h-1zM491 425h1v1h-1zM492 426h1v2h-1zM1101 428h32v1h-32zM493 428h1v2h-1zM1100 429h1v1h-1zM1133 429h10v1h-10zM1098 430h2v1h-2zM1143 430h1v1h-1zM1311 430h8v1h-8zM494 430h1v2h-1zM1097 431h1v1h-1zM1144 431h1v1h-1zM1305 431h6v1h-6zM1095 432h2v1h-2zM1145 432h1v1h-1zM1299 432h6v1h-6zM495 432h1v2h-1zM1094 433h1v1h-1zM1295 433h4v1h-4zM1146 433h1v2h-1zM1093 434h1v1h-1zM1291 434h4v1h-4zM496 434h1v2h-1zM1092 435h1v1h-1zM1147 435h1v1h-1zM1287 435h4v1h-4zM1091 436h1v1h-1zM1148 436h1v1h-1zM1285 436h2v1h-2zM497 436h1v3h-1zM1090 437h1v1h-1zM1149 437h1v1h-1zM1283 437h2v1h-2zM1089 438h1v1h-1zM1150 438h1v1h-1zM1280 438h3v1h-3zM1088 439h1v1h-1zM1151 439h2v1h-2zM1206 439h1v1h-1zM1256 439h8v1h-8zM1278 439h2v1h-2zM498 439h1v2h-1zM1087 440h1v1h-1zM1153 440h2v1h-2zM1205 440h1v1h-1zM1207 440h1v1h-1zM1250 440h6v1h-6zM1264 440h5v1h-5zM1273 440h5v1h-5zM1086 441h1v1h-1zM1155 441h2v1h-2zM1204 441h1v1h-1zM1208 441h1v1h-1zM1245 441h5v1h-5zM1269 441h4v1h-4zM499 441h1v2h-1zM1085 442h1v1h-1zM1157 442h1v1h-1zM1203 442h1v1h-1zM1209 442h2v1h-2zM1238 442h7v1h-7zM1084 443h1v1h-1zM1158 443h3v1h-3zM1202 443h1v1h-1zM1211 443h1v1h-1zM1232 443h6v1h-6zM500 443h1v2h-1zM1083 444h1v1h-1zM1161 444h2v1h-2zM1200 444h2v1h-2zM1212 444h1v1h-1zM1225 444h7v1h-7zM1163 445h2v1h-2zM1199 445h1v1h-1zM1213 445h1v1h-1zM1217 445h8v1h-8zM1082 445h1v2h-1zM501 445h1v3h-1zM1165 446h2v1h-2zM1198 446h1v1h-1zM1214 446h3v1h-3zM1081 447h1v1h-1zM1167 447h3v1h-3zM1197 447h1v1h-1zM604 448h3v1h-3zM1080 448h1v1h-1zM1170 448h2v1h-2zM1194 448h3v1h-3zM502 448h1v2h-1zM601 449h3v1h-3zM607 449h2v1h-2zM1079 449h1v1h-1zM1172 449h10v1h-10zM1191 449h3v1h-3zM599 450h2v1h-2zM609 450h1v1h-1zM1077 450h2v1h-2zM1182 450h9v1h-9zM503 450h1v3h-1zM595 451h4v1h-4zM610 451h2v1h-2zM1075 451h2v1h-2zM592 452h3v1h-3zM612 452h1v1h-1zM1072 452h3v1h-3zM590 453h2v1h-2zM613 453h2v1h-2zM1070 453h2v1h-2zM504 453h1v3h-1zM615 454h2v1h-2zM1068 454h2v1h-2zM589 454h1v2h-1zM617 455h1v1h-1zM670 455h2v1h-2zM1066 455h2v1h-2zM588 456h1v1h-1zM618 456h2v1h-2zM667 456h3v1h-3zM672 456h4v1h-4zM1063 456h3v1h-3zM505 456h1v3h-1zM620 457h2v1h-2zM665 457h2v1h-2zM676 457h4v1h-4zM1058 457h5v1h-5zM587 457h1v2h-1zM622 458h5v1h-5zM663 458h2v1h-2zM680 458h4v1h-4zM1053 458h5v1h-5zM627 459h6v1h-6zM649 459h14v1h-14zM684 459h4v1h-4zM700 459h3v1h-3zM1051 459h2v1h-2zM586 459h1v2h-1zM506 459h1v3h-1zM633 460h16v1h-16zM688 460h4v1h-4zM696 460h4v1h-4zM1049 460h2v1h-2zM703 460h1v2h-1zM692 461h4v1h-4zM1047 461h2v1h-2zM585 461h1v2h-1zM704 462h1v1h-1zM1046 462h1v1h-1zM507 462h1v3h-1zM1045 463h1v1h-1zM584 463h1v2h-1zM705 463h1v2h-1zM1044 464h1v2h-1zM508 465h1v2h-1zM583 465h1v2h-1zM706 465h1v2h-1zM1043 466h1v1h-1zM707 467h1v1h-1zM1042 467h1v1h-1zM582 467h1v2h-1zM509 467h1v3h-1zM1041 468h1v1h-1zM708 468h1v2h-1zM1040 469h1v1h-1zM581 469h1v2h-1zM510 470h1v2h-1zM709 470h1v2h-1zM1039 470h1v2h-1zM580 471h1v1h-1zM1038 472h1v1h-1zM511 472h1v2h-1zM579 472h1v2h-1zM710 472h1v2h-1zM1037 473h1v2h-1zM512 474h1v1h-1zM711 474h1v1h-1zM578 474h1v2h-1zM513 475h1v1h-1zM1036 475h1v1h-1zM712 475h1v2h-1zM514 476h1v1h-1zM577 476h1v2h-1zM1035 476h1v2h-1zM515 477h1v2h-1zM713 477h1v2h-1zM576 478h1v1h-1zM1034 478h1v2h-1zM516 479h1v1h-1zM575 479h1v2h-1zM714 479h1v2h-1zM517 480h1v1h-1zM1033 480h1v1h-1zM574 481h1v1h-1zM715 481h1v1h-1zM518 481h1v2h-1zM1032 481h1v2h-1zM573 482h1v1h-1zM716 482h1v2h-1zM519 483h1v1h-1zM572 483h1v1h-1zM1031 483h1v1h-1zM520 484h1v1h-1zM571 484h1v1h-1zM1030 484h1v1h-1zM717 484h1v2h-1zM521 485h1v1h-1zM570 485h1v1h-1zM1029 485h1v1h-1zM1028 486h1v1h-1zM522 486h1v2h-1zM569 486h1v2h-1zM718 486h1v2h-1zM1027 487h1v1h-1zM523 488h1v1h-1zM568 488h1v1h-1zM1026 488h1v1h-1zM719 488h1v2h-1zM524 489h1v1h-1zM567 489h1v1h-1zM1025 489h1v1h-1zM525 490h1v1h-1zM566 490h1v1h-1zM720 490h1v1h-1zM1024 490h1v1h-1zM565 491h1v1h-1zM1023 491h1v1h-1zM526 491h1v2h-1zM721 491h1v2h-1zM564 492h1v1h-1zM1022 492h1v1h-1zM527 493h1v1h-1zM1021 493h1v1h-1zM563 493h1v2h-1zM722 493h1v2h-1zM528 494h1v1h-1zM1020 494h1v1h-1zM529 495h2v1h-2zM562 495h1v1h-1zM1019 495h1v1h-1zM723 495h1v2h-1zM531 496h1v1h-1zM561 496h1v1h-1zM1018 496h1v1h-1zM532 497h1v1h-1zM560 497h1v1h-1zM1017 497h1v1h-1zM724 497h1v3h-1zM533 498h1v1h-1zM559 498h1v1h-1zM1016 498h1v1h-1zM534 499h2v1h-2zM558 499h1v1h-1zM1015 499h1v1h-1zM536 500h1v1h-1zM556 500h2v1h-2zM1014 500h1v1h-1zM725 500h1v2h-1zM537 501h1v1h-1zM555 501h1v1h-1zM1012 501h2v1h-2zM538 502h1v1h-1zM553 502h2v1h-2zM966 502h2v1h-2zM1010 502h2v1h-2zM726 502h1v2h-1zM539 503h1v1h-1zM551 503h2v1h-2zM965 503h1v1h-1zM968 503h2v1h-2zM1008 503h2v1h-2zM540 504h1v1h-1zM548 504h3v1h-3zM964 504h1v1h-1zM970 504h3v1h-3zM1007 504h1v1h-1zM727 504h1v3h-1zM541 505h1v1h-1zM545 505h3v1h-3zM973 505h5v1h-5zM1001 505h6v1h-6zM963 505h1v2h-1zM542 506h3v1h-3zM978 506h8v1h-8zM994 506h7v1h-7zM962 507h1v1h-1zM986 507h8v1h-8zM728 507h1v2h-1zM961 508h1v1h-1zM960 509h1v1h-1zM729 509h1v2h-1zM959 510h1v1h-1zM958 511h1v2h-1zM730 511h1v3h-1zM957 513h1v1h-1zM956 514h1v1h-1zM731 514h1v2h-1zM955 515h1v2h-1zM732 516h1v2h-1zM954 517h1v1h-1zM733 518h1v2h-1zM953 518h1v2h-1zM734 520h1v1h-1zM952 520h1v1h-1zM951 521h1v1h-1zM735 521h1v2h-1zM950 522h1v2h-1zM949 523h1v1h-1zM736 523h1v2h-1zM945 524h4v1h-4zM737 525h1v1h-1zM942 525h3v1h-3zM940 526h2v1h-2zM738 526h1v2h-1zM939 527h1v1h-1zM937 528h2v1h-2zM739 528h1v2h-1zM936 529h1v1h-1zM740 530h1v1h-1zM935 530h1v1h-1zM741 531h1v1h-1zM933 531h2v1h-2zM742 532h1v1h-1zM932 532h1v1h-1zM743 533h1v1h-1zM930 533h2v1h-2zM744 534h1v1h-1zM929 534h1v1h-1zM745 535h1v1h-1zM927 535h2v1h-2zM746 536h1v1h-1zM926 536h1v1h-1zM924 537h2v1h-2zM747 537h1v2h-1zM923 538h1v1h-1zM748 539h1v1h-1zM921 539h2v1h-2zM749 540h1v1h-1zM919 540h2v1h-2zM750 541h1v1h-1zM918 541h1v1h-1zM916 542h2v1h-2zM751 542h1v2h-1zM914 543h2v1h-2zM752 544h1v1h-1zM913 544h1v1h-1zM753 545h1v1h-1zM911 545h2v1h-2zM754 546h1v1h-1zM909 546h2v1h-2zM755 547h1v1h-1zM906 547h3v1h-3zM756 548h2v1h-2zM904 548h2v1h-2zM758 549h1v1h-1zM901 549h3v1h-3zM759 550h2v1h-2zM899 550h2v1h-2zM761 551h1v1h-1zM896 551h3v1h-3zM762 552h1v1h-1zM895 552h1v1h-1zM763 553h2v1h-2zM893 553h2v1h-2zM765 554h2v1h-2zM892 554h1v1h-1zM767 555h2v1h-2zM890 555h2v1h-2zM769 556h2v1h-2zM889 556h1v1h-1zM771 557h2v1h-2zM887 557h2v1h-2zM773 558h2v1h-2zM883 558h4v1h-4zM775 559h2v1h-2zM876 559h7v1h-7zM777 560h2v1h-2zM869 560h7v1h-7zM779 561h2v1h-2zM859 561h10v1h-10zM781 562h2v1h-2zM851 562h8v1h-8zM783 563h3v1h-3zM848 563h3v1h-3zM786 564h3v1h-3zM846 564h2v1h-2zM789 565h2v1h-2zM843 565h3v1h-3zM791 566h3v1h-3zM840 566h3v1h-3zM794 567h3v1h-3zM838 567h2v1h-2zM797 568h3v1h-3zM835 568h3v1h-3zM800 569h5v1h-5zM828 569h7v1h-7zM805 570h5v1h-5zM822 570h6v1h-6zM810 571h12v1h-12z" fill="#3cb371"/>
<rect x="0" y="289" width="1626" height="2" fill="#ff0000"/>
<rect x="0" y="313" width="1626" height="2" fill="#ff4500"/>
<rect x="0" y="338" width="1626" height="2" fill="#32cd32"/>
<rect x="0" y="396" width="1626" height="2" fill="#0000ff"/>
<rect x="0" y="423" width="1626" height="2" fill="#0000ff"/>
<rect x="38" y="105" width="1" height="18" fill="#000"/>
<rect x="36" y="108" width="5" height="11" fill="#000"/>
<rect x="46" y="105" width="1" height="15" fill="#000"/>
<rect x="44" y="110" width="5" height="10" fill="#000"/>
<rect x="45" y="111" width="3" height="8" fill="#fff"/>
<rect x="54" y="105" width="1" height="10" fill="#000"/>
<rect x="52" y="108" width="5" height="4" fill="#000"/>
<rect x="62" y="105" width="1" height="13" fill="#000"/>
<rect x="60" y="114" width="5" height="1" fill="#000"/>
<rect x="70" y="105" width="1" height="13" fill="#000"/>
<rect x="68" y="114" width="5" height="1" fill="#000"/>
<rect x="78" y="105" width="1" height="16" fill="#000"/>
<rect x="76" y="108" width="5" height="11" fill="#000"/>
<rect x="86" y="105" width="1" height="23" fill="#000"/>
<rect x="84" y="110" width="5" height="9" fill="#000"/>
<rect x="85" y="111" width="3" height="7" fill="#fff"/>
<rect x="94" y="105" width="1" height="22" fill="#000"/>
<rect x="92" y="108" width="5" height="10" fill="#000"/>
<rect x="102" y="105" width="1" height="16" fill="#000"/>
<rect x="100" y="110" width="5" height="8" fill="#000"/>
<rect x="101" y="111" width="3" height="6" fill="#fff"/>
<rect x="110" y="105" width="1" height="10" fill="#000"/>
<rect x="108" y="108" width="5" height="4" fill="#000"/>
<rect x="118" y="105" width="1" height="17" fill="#000"/>
<rect x="116" y="108" width="5" height="11" fill="#000"/>
<rect x="126" y="105" width="1" height="27" fill="#000"/>
<rect x="124" y="119" width="5" height="1" fill="#000"/>
<rect x="134" y="105" width="1" height="16" fill="#000"/>
<rect x="132" y="110" width="5" height="11" fill="#000"/>
<rect x="133" y="111" width="3" height="9" fill="#fff"/>
<rect x="222" y="77" width="1" height="16" fill="#000"/>
<rect x="220" y="80" width="5" height="12" fill="#000"/>
<rect x="230" y="79" width="1" height="14" fill="#000"/>
<rect x="228" y="85" width="5" height="7" fill="#000"/>
<rect x="229" y="86" width="3" height="5" fill="#fff"/>
<rect x="238" y="77" width="1" height="39" fill="#000"/>
<rect x="236" y="85" width="5" height="26" fill="#000"/>
<rect x="246" y="108" width="1" height="6" fill="#000"/>
<rect x="244" y="110" width="5" height="2" fill="#000"/>
<rect x="254" y="117" width="1" height="7" fill="#000"/>
<rect x="252" y="118" width="5" height="4" fill="#000"/>
<rect x="262" y="120" width="1" height="18" fill="#000"/>
<rect x="260" y="120" width="5" height="14" fill="#000"/>
<rect x="270" y="121" width="1" height="26" fill="#000"/>
<rect x="268" y="133" width="5" height="10" fill="#000"/>
<rect x="278" y="141" width="1" height="25" fill="#000"/>
<rect x="276" y="142" width="5" height="22" fill="#000"/>
<rect x="286" y="163" width="1" height="45" fill="#000"/>
<rect x="284" y="163" width="5" height="27" fill="#000"/>
<rect x="294" y="188" width="1" height="15" fill="#000"/>
<rect x="292" y="189" width="5" height="13" fill="#000"/>
<rect x="302" y="195" width="1" height="11" fill="#000"/>
<rect x="300" y="200" width="5" height="2" fill="#000"/>
<rect x="310" y="195" width="1" height="57" fill="#000"/>
<rect x="308" y="200" width="5" height="50" fill="#000"/>
<rect x="318" y="234" width="1" height="41" fill="#000"/>
<rect x="316" y="245" width="5" height="5" fill="#000"/>
<rect x="317" y="246" width="3" height="3" fill="#fff"/>
<rect x="326" y="234" width="1" height="30" fill="#000"/>
<rect x="324" y="245" width="5" height="3" fill="#000"/>
<rect x="334" y="238" width="1" height="25" fill="#000"/>
<rect x="332" y="247" width="5" height="8" fill="#000"/>
<rect x="342" y="242" width="1" height="14" fill="#000"/>
<rect x="340" y="252" width="5" height="3" fill="#000"/>
<rect x="341" y="253" width="3" height="1" fill="#fff"/>
<rect x="350" y="247" width="1" height="12" fill="#000"/>
<rect x="348" y="252" width="5" height="3" fill="#000"/>
<rect x="358" y="250" width="1" height="13" fill="#000"/>
<rect x="356" y="254" width="5" height="4" fill="#000"/>
<rect x="366" y="243" width="1" height="16" fill="#000"/>
<rect x="364" y="250" width="5" height="8" fill="#000"/>
<rect x="365" y="251" width="3" height="6" fill="#fff"/>
<rect x="374" y="242" width="1" height="17" fill="#000"/>
<rect x="372" y="245" width="5" height="7" fill="#000"/>
<rect x="373" y="246" width="3" height="5" fill="#fff"/>
<rect x="382" y="199" width="1" height="51" fill="#000"/>
<rect x="380" y="216" width="5" height="29" fill="#000"/>
<rect x="381" y="217" width="3" height="27" fill="#fff"/>
<rect x="390" y="201" width="1" height="44" fill="#000"/>
<rect x="388" y="216" width="5" height="22" fill="#000"/>
<rect x="398" y="236" width="1" height="11" fill="#000"/>
<rect x="396" y="237" width="5" height="4" fill="#000"/>
<rect x="406" y="223" width="1" height="19" fill="#000"/>
<rect x="404" y="230" width="5" height="9" fill="#000"/>
<rect x="405" y="231" width="3" height="7" fill="#fff"/>
<rect x="414" y="227" width="1" height="19" fill="#000"/>
<rect x="412" y="229" width="5" height="16" fill="#000"/>
<rect x="422" y="239" width="1" height="27" fill="#000"/>
<rect x="420" y="244" width="5" height="12" fill="#000"/>
<rect x="430" y="254" width="1" height="54" fill="#000"/>
<rect x="428" y="255" width="5" height="26" fill="#000"/>
<rect x="438" y="280" width="1" height="65" fill="#000"/>
<rect x="436" y="280" width="5" height="64" fill="#000"/>
<rect x="446" y="327" width="1" height="37" fill="#000"/>
<rect x="444" y="343" width="5" height="6" fill="#000"/>
<rect x="454" y="339" width="1" height="59" fill="#000"/>
<rect x="452" y="348" width="5" height="46" fill="#000"/>
<rect x="462" y="375" width="1" height="24" fill="#000"/>
<rect x="460" y="379" width="5" height="15" fill="#000"/>
<rect x="461" y="380" width="3" height="13" fill="#fff"/>
<rect x="470" y="375" width="1" height="27" fill="#000"/>
<rect x="468" y="379" width="5" height="7" fill="#000"/>
<rect x="478" y="350" width="1" height="63" fill="#000"/>
<rect x="476" y="385" width="5" height="12" fill="#000"/>
<rect x="486" y="379" width="1" height="22" fill="#000"/>
<rect x="484" y="385" width="5" height="12" fill="#000"/>
<rect x="485" y="386" width="3" height="10" fill="#fff"/>
<rect x="494" y="387" width="1" height="7" fill="#000"/>
<rect x="492" y="388" width="5" height="3" fill="#000"/>
<rect x="502" y="386" width="1" height="55" fill="#000"/>
<rect x="500" y="390" width="5" height="42" fill="#000"/>
<rect x="510" y="419" width="1" height="43" fill="#000"/>
<rect x="508" y="431" width="5" height="25" fill="#000"/>
<rect x="518" y="408" width="1" height="52" fill="#000"/>
<rect x="516" y="415" width="5" height="41" fill="#000"/>
<rect x="517" y="416" width="3" height="39" fill="#fff"/>
<rect x="526" y="406" width="1" height="32" fill="#000"/>
<rect x="524" y="415" width="5" height="3" fill="#000"/>
<rect x="534" y="414" width="1" height="23" fill="#000"/>
<rect x="532" y="417" width="5" height="6" fill="#000"/>
<rect x="542" y="419" width="1" height="47" fill="#000"/>
<rect x="540" y="422" width="5" height="29" fill="#000"/>
<rect x="550" y="387" width="1" height="64" fill="#000"/>
<rect x="548" y="388" width="5" height="63" fill="#000"/>
<rect x="549" y="389" width="3" height="61" fill="#fff"/>
<rect x="558" y="358" width="1" height="39" fill="#000"/>
<rect x="556" y="384" width="5" height="5" fill="#000"/>
<rect x="557" y="385" width="3" height="3" fill="#fff"/>
<rect x="566" y="365" width="1" height="26" fill="#000"/>
<rect x="564" y="376" width="5" height="8" fill="#000"/>
<rect x="565" y="377" width="3" height="6" fill="#fff"/>
<rect x="574" y="359" width="1" height="51" fill="#000"/>
<rect x="572" y="376" width="5" height="24" fill="#000"/>
<rect x="582" y="384" width="1" height="24" fill="#000"/>
<rect x="580" y="385" width="5" height="14" fill="#000"/>
<rect x="581" y="386" width="3" height="12" fill="#fff"/>
<rect x="590" y="385" width="1" height="16" fill="#000"/>
<rect x="588" y="385" width="5" height="11" fill="#000"/>
<rect x="598" y="388" width="1" height="41" fill="#000"/>
<rect x="596" y="395" width="5" height="24" fill="#000"/>
<rect x="606" y="388" width="1" height="33" fill="#000"/>
<rect x="604" y="402" width="5" height="17" fill="#000"/>
<rect x="605" y="403" width="3" height="15" fill="#fff"/>
<rect x="614" y="398" width="1" height="45" fill="#000"/>
<rect x="612" y="402" width="5" height="39" fill="#000"/>
<rect x="622" y="428" width="1" height="31" fill="#000"/>
<rect x="620" y="439" width="5" height="10" fill="#000"/>
<rect x="630" y="415" width="1" height="40" fill="#000"/>
<rect x="628" y="417" width="5" height="33" fill="#000"/>
<rect x="629" y="418" width="3" height="31" fill="#fff"/>
<rect x="638" y="414" width="1" height="14" fill="#000"/>
<rect x="636" y="417" width="5" height="10" fill="#000"/>
<rect x="646" y="398" width="1" height="32" fill="#000"/>
<rect x="644" y="403" width="5" height="23" fill="#000"/>
<rect x="645" y="404" width="3" height="21" fill="#fff"/>
<rect x="654" y="399" width="1" height="18" fill="#000"/>
<rect x="652" y="403" width="5" height="7" fill="#000"/>
<rect x="662" y="405" width="1" height="33" fill="#000"/>
<rect x="660" y="408" width="5" height="25" fill="#000"/>
<rect x="670" y="420" width="1" height="36" fill="#000"/>
<rect x="668" y="432" width="5" height="2" fill="#000"/>
<rect x="678" y="418" width="1" height="24" fill="#000"/>
<rect x="676" y="432" width="5" height="2" fill="#000"/>
<rect x="686" y="429" width="1" height="22" fill="#000"/>
<rect x="684" y="433" width="5" height="7" fill="#000"/>
<rect x="694" y="430" width="1" height="12" fill="#000"/>
<rect x="692" y="436" width="5" height="4" fill="#000"/>
<rect x="693" y="437" width="3" height="2" fill="#fff"/>
<rect x="702" y="434" width="1" height="15" fill="#000"/>
<rect x="700" y="437" width="5" height="6" fill="#000"/>
<rect x="710" y="441" width="1" height="61" fill="#000"/>
<rect x="708" y="442" width="5" height="45" fill="#000"/>
<rect x="718" y="477" width="1" height="36" fill="#000"/>
<rect x="716" y="486" width="5" height="27" fill="#000"/>
<rect x="726" y="495" width="1" height="33" fill="#000"/>
<rect x="724" y="510" width="5" height="3" fill="#000"/>
<rect x="725" y="511" width="3" height="1" fill="#fff"/>
<rect x="734" y="520" width="1" height="31" fill="#000"/>
<rect x="732" y="521" width="5" height="23" fill="#000"/>
<rect x="742" y="518" width="1" height="26" fill="#000"/>
<rect x="740" y="529" width="5" height="12" fill="#000"/>
<rect x="741" y="530" width="3" height="10" fill="#fff"/>
<rect x="750" y="505" width="1" height="33" fill="#000"/>
<rect x="748" y="511" width="5" height="18" fill="#000"/>
<rect x="749" y="512" width="3" height="16" fill="#fff"/>
<rect x="758" y="509" width="1" height="23" fill="#000"/>
<rect x="756" y="511" width="5" height="14" fill="#000"/>
<rect x="766" y="497" width="1" height="29" fill="#000"/>
<rect x="764" y="515" width="5" height="10" fill="#000"/>
<rect x="765" y="516" width="3" height="8" fill="#fff"/>
<rect x="774" y="509" width="1" height="11" fill="#000"/>
<rect x="772" y="513" width="5" height="4" fill="#000"/>
<rect x="782" y="510" width="1" height="13" fill="#000"/>
<rect x="780" y="511" width="5" height="5" fill="#000"/>
<rect x="781" y="512" width="3" height="3" fill="#fff"/>
<rect x="790" y="502" width="1" height="14" fill="#000"/>
<rect x="788" y="510" width="5" height="3" fill="#000"/>
<rect x="798" y="508" width="1" height="28" fill="#000"/>
<rect x="796" y="512" width="5" height="19" fill="#000"/>
<rect x="806" y="515" width="1" height="18" fill="#000"/>
<rect x="804" y="517" width="5" height="15" fill="#000"/>
<rect x="805" y="518" width="3" height="13" fill="#fff"/>
<rect x="814" y="404" width="1" height="118" fill="#000"/>
<rect x="812" y="436" width="5" height="82" fill="#000"/>
<rect x="813" y="437" width="3" height="80" fill="#fff"/>
<rect x="822" y="431" width="1" height="18" fill="#000"/>
<rect x="820" y="436" width="5" height="1" fill="#000"/>
<rect x="830" y="430" width="1" height="12" fill="#000"/>
<rect x="828" y="436" width="5" height="3" fill="#000"/>
<rect x="838" y="438" width="1" height="33" fill="#000"/>
<rect x="836" y="438" width="5" height="21" fill="#000"/>
<rect x="846" y="439" width="1" height="23" fill="#000"/>
<rect x="844" y="449" width="5" height="10" fill="#000"/>
<rect x="845" y="450" width="3" height="8" fill="#fff"/>
<rect x="854" y="435" width="1" height="56" fill="#000"/>
<rect x="852" y="449" width="5" height="35" fill="#000"/>
<rect x="862" y="465" width="1" height="34" fill="#000"/>
<rect x="860" y="483" width="5" height="7" fill="#000"/>
<rect x="870" y="477" width="1" height="22" fill="#000"/>
<rect x="868" y="485" width="5" height="5" fill="#000"/>
<rect x="869" y="486" width="3" height="3" fill="#fff"/>
<rect x="878" y="483" width="1" height="15" fill="#000"/>
<rect x="876" y="485" width="5" height="1" fill="#000"/>
<rect x="886" y="478" width="1" height="15" fill="#000"/>
<rect x="884" y="485" width="5" height="5" fill="#000"/>
<rect x="894" y="424" width="1" height="71" fill="#000"/>
<rect x="892" y="454" width="5" height="36" fill="#000"/>
<rect x="893" y="455" width="3" height="34" fill="#fff"/>
<rect x="902" y="420" width="1" height="62" fill="#000"/>
<rect x="900" y="430" width="5" height="24" fill="#000"/>
<rect x="901" y="431" width="3" height="22" fill="#fff"/>
<rect x="910" y="417" width="1" height="31" fill="#000"/>
<rect x="908" y="430" width="5" height="14" fill="#000"/>
<rect x="918" y="436" width="1" height="24" fill="#000"/>
<rect x="916" y="443" width="5" height="5" fill="#000"/>
<rect x="926" y="447" width="1" height="16" fill="#000"/>
<rect x="924" y="447" width="5" height="10" fill="#000"/>
<rect x="934" y="446" width="1" height="17" fill="#000"/>
<rect x="932" y="449" width="5" height="8" fill="#000"/>
<rect x="933" y="450" width="3" height="6" fill="#fff"/>
<rect x="942" y="428" width="1" height="27" fill="#000"/>
<rect x="940" y="434" width="5" height="16" fill="#000"/>
<rect x="941" y="435" width="3" height="14" fill="#fff"/>
<rect x="950" y="392" width="1" height="45" fill="#000"/>
<rect x="948" y="400" width="5" height="36" fill="#000"/>
<rect x="949" y="401" width="3" height="34" fill="#fff"/>
<rect x="958" y="385" width="1" height="34" fill="#000"/>
<rect x="956" y="400" width="5" height="6" fill="#000"/>
<rect x="966" y="404" width="1" height="12" fill="#000"/>
<rect x="964" y="405" width="5" height="3" fill="#000"/>
<rect x="974" y="393" width="1" height="5" fill="#000"/>
<rect x="972" y="394" width="5" height="1" fill="#000"/>
<rect x="982" y="395" width="1" height="20" fill="#000"/>
<rect x="980" y="395" width="5" height="7" fill="#000"/>
<rect x="990" y="389" width="1" height="30" fill="#000"/>
<rect x="988" y="401" width="5" height="10" fill="#000"/>
<rect x="998" y="394" width="1" height="20" fill="#000"/>
<rect x="996" y="407" width="5" height="4" fill="#000"/>
<rect x="997" y="408" width="3" height="2" fill="#fff"/>
<rect x="1006" y="387" width="1" height="28" fill="#000"/>
<rect x="1004" y="403" width="5" height="4" fill="#000"/>
<rect x="1005" y="404" width="3" height="2" fill="#fff"/>
<rect x="1014" y="390" width="1" height="15" fill="#000"/>
<rect x="1012" y="397" width="5" height="6" fill="#000"/>
<rect x="1013" y="398" width="3" height="4" fill="#fff"/>
<rect x="1022" y="393" width="1" height="12" fill="#000"/>
<rect x="1020" y="397" width="5" height="7" fill="#000"/>
<rect x="1030" y="397" width="1" height="9" fill="#000"/>
<rect x="1028" y="400" width="5" height="4" fill="#000"/>
<rect x="1029" y="401" width="3" height="2" fill="#fff"/>
<rect x="1038" y="399" width="1" height="40" fill="#000"/>
<rect x="1036" y="399" width="5" height="32" fill="#000"/>
<rect x="1046" y="428" width="1" height="29" fill="#000"/>
<rect x="1044" y="431" width="5" height="13" fill="#000"/>
<rect x="1054" y="383" width="1" height="71" fill="#000"/>
<rect x="1052" y="405" width="5" height="38" fill="#000"/>
<rect x="1053" y="406" width="3" height="36" fill="#fff"/>
<rect x="1062" y="392" width="1" height="16" fill="#000"/>
<rect x="1060" y="402" width="5" height="2" fill="#000"/>
<rect x="1070" y="400" width="1" height="6" fill="#000"/>
<rect x="1068" y="402" width="5" height="2" fill="#000"/>
<rect x="1078" y="380" width="1" height="22" fill="#000"/>
<rect x="1076" y="392" width="5" height="10" fill="#000"/>
<rect x="1077" y="393" width="3" height="8" fill="#fff"/>
<rect x="1086" y="391" width="1" height="15" fill="#000"/>
<rect x="1084" y="391" width="5" height="11" fill="#000"/>
<rect x="1094" y="390" width="1" height="28" fill="#000"/>
<rect x="1092" y="401" width="5" height="6" fill="#000"/>
<rect x="1102" y="393" width="1" height="30" fill="#000"/>
<rect x="1100" y="398" width="5" height="9" fill="#000"/>
<rect x="1101" y="399" width="3" height="7" fill="#fff"/>
<rect x="1110" y="391" width="1" height="18" fill="#000"/>
<rect x="1108" y="398" width="5" height="2" fill="#000"/>
<rect x="1118" y="398" width="1" height="8" fill="#000"/>
<rect x="1116" y="399" width="5" height="1" fill="#000"/>
<rect x="1126" y="397" width="1" height="18" fill="#000"/>
<rect x="1124" y="400" width="5" height="13" fill="#000"/>
<rect x="1134" y="399" width="1" height="31" fill="#000"/>
<rect x="1132" y="407" width="5" height="7" fill="#000"/>
<rect x="1133" y="408" width="3" height="5" fill="#fff"/>
<rect x="1142" y="380" width="1" height="42" fill="#000"/>
<rect x="1140" y="391" width="5" height="16" fill="#000"/>
<rect x="1141" y="392" width="3" height="14" fill="#fff"/>
<rect x="1150" y="324" width="1" height="72" fill="#000"/>
<rect x="1148" y="341" width="5" height="50" fill="#000"/>
<rect x="1149" y="342" width="3" height="48" fill="#fff"/>
<rect x="1158" y="335" width="1" height="8" fill="#000"/>
<rect x="1156" y="341" width="5" height="1" fill="#000"/>
<rect x="1166" y="334" width="1" height="10" fill="#000"/>
<rect x="1164" y="339" width="5" height="3" fill="#000"/>
<rect x="1165" y="340" width="3" height="1" fill="#fff"/>
<rect x="1174" y="332" width="1" height="14" fill="#000"/>
<rect x="1172" y="339" width="5" height="5" fill="#000"/>
<rect x="1182" y="336" width="1" height="27" fill="#000"/>
<rect x="1180" y="343" width="5" height="14" fill="#000"/>
<rect x="1190" y="334" width="1" height="29" fill="#000"/>
<rect x="1188" y="336" width="5" height="20" fill="#000"/>
<rect x="1189" y="337" width="3" height="18" fill="#fff"/>
<rect x="1198" y="335" width="1" height="79" fill="#000"/>
<rect x="1196" y="335" width="5" height="78" fill="#000"/>
<rect x="1206" y="395" width="1" height="22" fill="#000"/>
<rect x="1204" y="397" width="5" height="15" fill="#000"/>
<rect x="1205" y="398" width="3" height="13" fill="#fff"/>
<rect x="1214" y="426" width="1" height="16" fill="#000"/>
<rect x="1212" y="435" width="5" height="7" fill="#000"/>
<rect x="1222" y="374" width="1" height="66" fill="#000"/>
<rect x="1220" y="395" width="5" height="44" fill="#000"/>
<rect x="1221" y="396" width="3" height="42" fill="#fff"/>
<rect x="1230" y="357" width="1" height="60" fill="#000"/>
<rect x="1228" y="388" width="5" height="7" fill="#000"/>
<rect x="1229" y="389" width="3" height="5" fill="#fff"/>
<rect x="1238" y="378" width="1" height="24" fill="#000"/>
<rect x="1236" y="383" width="5" height="5" fill="#000"/>
<rect x="1237" y="384" width="3" height="3" fill="#fff"/>
<rect x="1246" y="355" width="1" height="42" fill="#000"/>
<rect x="1244" y="382" width="5" height="3" fill="#000"/>
<rect x="1245" y="383" width="3" height="1" fill="#fff"/>
<rect x="1254" y="368" width="1" height="18" fill="#000"/>
<rect x="1252" y="378" width="5" height="4" fill="#000"/>
<rect x="1253" y="379" width="3" height="2" fill="#fff"/>
<rect x="1262" y="377" width="1" height="13" fill="#000"/>
<rect x="1260" y="378" width="5" height="12" fill="#000"/>
<rect x="1270" y="387" width="1" height="30" fill="#000"/>
<rect x="1268" y="388" width="5" height="28" fill="#000"/>
<rect x="1278" y="387" width="1" height="30" fill="#000"/>
<rect x="1276" y="387" width="5" height="29" fill="#000"/>
<rect x="1277" y="388" width="3" height="27" fill="#fff"/>
<rect x="1286" y="368" width="1" height="25" fill="#000"/>
<rect x="1284" y="377" width="5" height="11" fill="#000"/>
<rect x="1285" y="378" width="3" height="9" fill="#fff"/>
<rect x="1294" y="338" width="1" height="42" fill="#000"/>
<rect x="1292" y="362" width="5" height="15" fill="#000"/>
<rect x="1293" y="363" width="3" height="13" fill="#fff"/>
<rect x="1302" y="355" width="1" height="14" fill="#000"/>
<rect x="1300" y="362" width="5" height="5" fill="#000"/>
<rect x="1310" y="364" width="1" height="5" fill="#000"/>
<rect x="1308" y="366" width="5" height="2" fill="#000"/>
<rect x="1318" y="363" width="1" height="5" fill="#000"/>
<rect x="1316" y="364" width="5" height="3" fill="#000"/>
<rect x="1317" y="365" width="3" height="1" fill="#fff"/>
<rect x="1258" y="332" width="74" height="14" fill="#00ff00"/>
<rect x="-2" y="288" width="4" height="4" fill="#fff" stroke="#ff0000" stroke-width="2"/>
<rect x="1621" y="288" width="4" height="4" fill="#fff" stroke="#ff0000" stroke-width="2"/>
<rect x="-2" y="312" width="4" height="4" fill="#fff" stroke="#ff4500" stroke-width="2"/>
<rect x="1621" y="312" width="4" height="4" fill="#fff" stroke="#ff4500" stroke-width="2"/>
<rect x="-2" y="337" width="4" height="4" fill="#fff" stroke="#32cd32" stroke-width="2"/>
<rect x="1621" y="337" width="4" height="4" fill="#fff" stroke="#32cd32" stroke-width="2"/>
<rect x="-2" y="395" width="4" height="4" fill="#fff" stroke="#0000ff" stroke-width="2"/>
<rect x="1621" y="395" width="4" height="4" fill="#fff" stroke="#0000ff" stroke-width="2"/>
<rect x="-2" y="422" width="4" height="4" fill="#fff" stroke="#0000ff" stroke-width="2"/>
<rect x="1621" y="422" width="4" height="4" fill="#fff" stroke="#0000ff" stroke-width="2"/>
<polygon points="1326.5,29 1336.5,29 1331.5,34.5" fill="#c0c0c0"/>
</g>
<rect x="6" y="622" width="1" height="9" fill="#c0c0c0"/>
<rect x="14" y="622" width="1" height="5" fill="#c0c0c0"/>
<rect x="22" y="622" width="1" height="4" fill="#c0c0c0"/>
<rect x="30" y="622" width="1" height="4" fill="#c0c0c0"/>
<rect x="38" y="622" width="1" height="7" fill="#c0c0c0"/>
<rect x="46" y="622" width="1" height="8" fill="#c0c0c0"/>
<rect x="54" y="622" width="1" height="8" fill="#c0c0c0"/>
<rect x="62" y="622" width="1" height="8" fill="#c0c0c0"/>
<rect x="70" y="622" width="1" height="8" fill="#c0c0c0"/>
<rect x="78" y="622" width="1" height="8" fill="#c0c0c0"/>
<rect x="86" y="622" width="1" height="8" fill="#c0c0c0"/>
<rect x="94" y="622" width="1" height="8" fill="#c0c0c0"/>
<rect x="102" y="622" width="1" height="8" fill="#c0c0c0"/>
<rect x="110" y="622" width="1" height="8" fill="#c0c0c0"/>
<rect x="118" y="622" width="1" height="8" fill="#c0c0c0"/>
<rect x="126" y="622" width="1" height="8" fill="#c0c0c0"/>
<rect x="134" y="622" width="1" height="4" fill="#c0c0c0"/>
<rect x="142" y="622" width="1" height="2" fill="#c0c0c0"/>
<rect x="150" y="618" width="1" height="5" fill="#c0c0c0"/>
<rect x="158" y="616" width="1" height="7" fill="#c0c0c0"/>
<rect x="166" y="615" width="1" height="8" fill="#c0c0c0"/>
<rect x="174" y="616" width="1" height="7" fill="#c0c0c0"/>
<rect x="182" y="615" width="1" height="8" fill="#c0c0c0"/>
<rect x="190" y="610" width="1" height="13" fill="#c0c0c0"/>
<rect x="198" y="607" width="1" height="16" fill="#c0c0c0"/>
<rect x="206" y="605" width="1" height="18" fill="#c0c0c0"/>
<rect x="214" y="605" width="1" height="18" fill="#c0c0c0"/>
<rect x="222" y="607" width="1" height="16" fill="#c0c0c0"/>
<rect x="230" y="608" width="1" height="15" fill="#c0c0c0"/>
<rect x="238" y="613" width="1" height="10" fill="#c0c0c0"/>
<rect x="246" y="618" width="1" height="5" fill="#c0c0c0"/>
<rect x="262" y="622" width="1" height="7" fill="#c0c0c0"/>
<rect x="270" y="622" width="1" height="13" fill="#c0c0c0"/>
<rect x="278" y="622" width="1" height="22" fill="#c0c0c0"/>
<rect x="286" y="622" width="1" height="33" fill="#c0c0c0"/>
<rect x="294" y="622" width="1" height="43" fill="#c0c0c0"/>
<rect x="302" y="622" width="1" height="50" fill="#c0c0c0"/>
<rect x="310" y="622" width="1" height="64" fill="#c0c0c0"/>
<rect x="318" y="622" width="1" height="73" fill="#c0c0c0"/>
<rect x="326" y="622" width="1" height="80" fill="#c0c0c0"/>
<rect x="334" y="622" width="1" height="85" fill="#c0c0c0"/>
<rect x="342" y="622" width="1" height="89" fill="#c0c0c0"/>
<rect x="350" y="622" width="1" height="90" fill="#c0c0c0"/>
<rect x="358" y="622" width="1" height="91" fill="#c0c0c0"/>
<rect x="366" y="622" width="1" height="90" fill="#c0c0c0"/>
<rect x="374" y="622" width="1" height="86" fill="#c0c0c0"/>
<rect x="382" y="622" width="1" height="78" fill="#c0c0c0"/>
<rect x="390" y="622" width="1" height="74" fill="#c0c0c0"/>
<rect x="398" y="622" width="1" height="71" fill="#c0c0c0"/>
<rect x="406" y="622" width="1" height="66" fill="#c0c0c0"/>
<rect x="414" y="622" width="1" height="63" fill="#c0c0c0"/>
<rect x="422" y="622" width="1" height="63" fill="#c0c0c0"/>
<rect x="430" y="622" width="1" height="66" fill="#c0c0c0"/>
<rect x="438" y="622" width="1" height="79" fill="#c0c0c0"/>
<rect x="446" y="622" width="1" height="88" fill="#c0c0c0"/>
<rect x="454" y="622" width="1" height="103" fill="#c0c0c0"/>
<rect x="462" y="622" width="1" height="110" fill="#c0c0c0"/>
<rect x="470" y="622" width="1" height="116" fill="#c0c0c0"/>
<rect x="478" y="622" width="1" height="122" fill="#c0c0c0"/>
<rect x="486" y="622" width="1" height="122" fill="#c0c0c0"/>
<rect x="494" y="622" width="1" height="122" fill="#c0c0c0"/>
<rect x="502" y="622" width="1" height="128" fill="#c0c0c0"/>
<rect x="510" y="622" width="1" height="135" fill="#c0c0c0"/>
<rect x="518" y="622" width="1" height="133" fill="#c0c0c0"/>
<rect x="526" y="622" width="1" height="129" fill="#c0c0c0"/>
<rect x="534" y="622" width="1" height="128" fill="#c0c0c0"/>
<rect x="542" y="622" width="1" height="128" fill="#c0c0c0"/>
<rect x="550" y="622" width="1" height="116" fill="#c0c0c0"/>
<rect x="558" y="622" width="1" height="105" fill="#c0c0c0"/>
<rect x="566" y="622" width="1" height="93" fill="#c0c0c0"/>
<rect x="574" y="622" width="1" height="88" fill="#c0c0c0"/>
<rect x="582" y="622" width="1" height="80" fill="#c0c0c0"/>
<rect x="590" y="622" width="1" height="74" fill="#c0c0c0"/>
<rect x="598" y="622" width="1" height="73" fill="#c0c0c0"/>
<rect x="606" y="622" width="1" height="69" fill="#c0c0c0"/>
<rect x="614" y="622" width="1" height="71" fill="#c0c0c0"/>
<rect x="622" y="622" width="1" height="73" fill="#c0c0c0"/>
<rect x="630" y="622" width="1" height="69" fill="#c0c0c0"/>
<rect x="638" y="622" width="1" height="66" fill="#c0c0c0"/>
<rect x="646" y="622" width="1" height="60" fill="#c0c0c0"/>
<rect x="654" y="622" width="1" height="55" fill="#c0c0c0"/>
<rect x="662" y="622" width="1" height="54" fill="#c0c0c0"/>
<rect x="670" y="622" width="1" height="53" fill="#c0c0c0"/>
<rect x="678" y="622" width="1" height="52" fill="#c0c0c0"/>
<rect x="686" y="622" width="1" height="52" fill="#c0c0c0"/>
<rect x="694" y="622" width="1" height="50" fill="#c0c0c0"/>
<rect x="702" y="622" width="1" height="49" fill="#c0c0c0"/>
<rect x="710" y="622" width="1" height="56" fill="#c0c0c0"/>
<rect x="718" y="622" width="1" height="65" fill="#c0c0c0"/>
<rect x="726" y="622" width="1" height="71" fill="#c0c0c0"/>
<rect x="734" y="622" width="1" height="80" fill="#c0c0c0"/>
<rect x="742" y="622" width="1" height="85" fill="#c0c0c0"/>
<rect x="750" y="622" width="1" height="84" fill="#c0c0c0"/>
<rect x="758" y="622" width="1" height="83" fill="#c0c0c0"/>
<rect x="766" y="622" width="1" height="81" fill="#c0c0c0"/>
<rect x="774" y="622" width="1" height="80" fill="#c0c0c0"/>
<rect x="782" y="622" width="1" height="75" fill="#c0c0c0"/>
<rect x="790" y="622" width="1" height="73" fill="#c0c0c0"/>
<rect x="798" y="622" width="1" height="72" fill="#c0c0c0"/>
<rect x="806" y="622" width="1" height="69" fill="#c0c0c0"/>
<rect x="814" y="622" width="1" height="52" fill="#c0c0c0"/>
<rect x="822" y="622" width="1" height="37" fill="#c0c0c0"/>
<rect x="830" y="622" width="1" height="26" fill="#c0c0c0"/>
<rect x="838" y="622" width="1" height="21" fill="#c0c0c0"/>
<rect x="846" y="622" width="1" height="14" fill="#c0c0c0"/>
<rect x="854" y="622" width="1" height="15" fill="#c0c0c0"/>
<rect x="862" y="622" width="1" height="17" fill="#c0c0c0"/>
<rect x="870" y="622" width="1" height="17" fill="#c0c0c0"/>
<rect x="878" y="622" width="1" height="17" fill="#c0c0c0"/>
<rect x="886" y="622" width="1" height="18" fill="#c0c0c0"/>
<rect x="894" y="622" width="1" height="12" fill="#c0c0c0"/>
<rect x="910" y="620" width="1" height="3" fill="#c0c0c0"/>
<rect x="918" y="618" width="1" height="5" fill="#c0c0c0"/>
<rect x="926" y="617" width="1" height="6" fill="#c0c0c0"/>
<rect x="934" y="615" width="1" height="8" fill="#c0c0c0"/>
<rect x="942" y="612" width="1" height="11" fill="#c0c0c0"/>
<rect x="950" y="603" width="1" height="20" fill="#c0c0c0"/>
<rect x="958" y="597" width="1" height="26" fill="#c0c0c0"/>
<rect x="966" y="593" width="1" height="30" fill="#c0c0c0"/>
<rect x="974" y="588" width="1" height="35" fill="#c0c0c0"/>
<rect x="982" y="586" width="1" height="37" fill="#c0c0c0"/>
<rect x="990" y="586" width="1" height="37" fill="#c0c0c0"/>
<rect x="998" y="586" width="1" height="37" fill="#c0c0c0"/>
<rect x="1006" y="586" width="1" height="37" fill="#c0c0c0"/>
<rect x="1014" y="585" width="1" height="38" fill="#c0c0c0"/>
<rect x="1022" y="586" width="1" height="37" fill="#c0c0c0"/>
<rect x="1030" y="587" width="1" height="36" fill="#c0c0c0"/>
<rect x="1038" y="592" width="1" height="31" fill="#c0c0c0"/>
<rect x="1046" y="600" width="1" height="23" fill="#c0c0c0"/>
<rect x="1054" y="599" width="1" height="24" fill="#c0c0c0"/>
<rect x="1062" y="599" width="1" height="24" fill="#c0c0c0"/>
<rect x="1070" y="598" width="1" height="25" fill="#c0c0c0"/>
<rect x="1078" y="597" width="1" height="26" fill="#c0c0c0"/>
<rect x="1086" y="597" width="1" height="26" fill="#c0c0c0"/>
<rect x="1094" y="599" width="1" height="24" fill="#c0c0c0"/>
<rect x="1102" y="599" width="1" height="24" fill="#c0c0c0"/>
<rect x="1110" y="600" width="1" height="23" fill="#c0c0c0"/>
<rect x="1118" y="601" width="1" height="22" fill="#c0c0c0"/>
<rect x="1126" y="603" width="1" height="20" fill="#c0c0c0"/>
<rect x="1134" y="605" width="1" height="18" fill="#c0c0c0"/>
<rect x="1142" y="604" width="1" height="19" fill="#c0c0c0"/>
<rect x="1150" y="594" width="1" height="29" fill="#c0c0c0"/>
<rect x="1158" y="587" width="1" height="36" fill="#c0c0c0"/>
<rect x="1166" y="582" width="1" height="41" fill="#c0c0c0"/>
<rect x="1174" y="579" width="1" height="44" fill="#c0c0c0"/>
<rect x="1182" y="579" width="1" height="44" fill="#c0c0c0"/>
<rect x="1190" y="577" width="1" height="46" fill="#c0c0c0"/>
<rect x="1198" y="588" width="1" height="35" fill="#c0c0c0"/>
<rect x="1206" y="595" width="1" height="28" fill="#c0c0c0"/>
<rect x="1214" y="608" width="1" height="15" fill="#c0c0c0"/>
<rect x="1222" y="611" width="1" height="12" fill="#c0c0c0"/>
<rect x="1230" y="612" width="1" height="11" fill="#c0c0c0"/>
<rect x="1238" y="612" width="1" height="11" fill="#c0c0c0"/>
<rect x="1246" y="612" width="1" height="11" fill="#c0c0c0"/>
<rect x="1254" y="611" width="1" height="12" fill="#c0c0c0"/>
<rect x="1262" y="613" width="1" height="10" fill="#c0c0c0"/>
<rect x="1270" y="619" width="1" height="4" fill="#c0c0c0"/>
<rect x="1278" y="618" width="1" height="5" fill="#c0c0c0"/>
<rect x="1286" y="616" width="1" height="7" fill="#c0c0c0"/>
<rect x="1294" y="612" width="1" height="11" fill="#c0c0c0"/>
<rect x="1302" y="610" width="1" height="13" fill="#c0c0c0"/>
<rect x="1310" y="609" width="1" height="14" fill="#c0c0c0"/>
<rect x="1318" y="607" width="1" height="16" fill="#c0c0c0"/>
<path d="M1025 586h1v1h-1zM1029 586h3v1h-3zM1035 586h3v1h-3zM1041 586h3v1h-3zM1203 586h3v1h-3zM1209 586h3v1h-3zM1023 587h2v1h-2zM1047 587h3v1h-3zM1197 587h3v1h-3zM1215 587h3v1h-3zM1017 588h3v1h-3zM1053 588h2v1h-2zM1192 588h2v1h-2zM1221 588h1v1h-1zM1013 589h1v1h-1zM1055 589h1v1h-1zM1059 589h1v1h-1zM1191 589h1v1h-1zM1222 589h2v1h-2zM1011 590h2v1h-2zM1060 590h2v1h-2zM1065 590h3v1h-3zM1186 590h2v1h-2zM1227 590h2v1h-2zM1071 591h3v1h-3zM1185 591h1v1h-1zM1229 591h1v1h-1zM1006 592h2v1h-2zM1077 592h3v1h-3zM1181 592h1v1h-1zM1005 593h1v1h-1zM1083 593h2v1h-2zM1179 593h2v1h-2zM1233 593h2v1h-2zM1001 594h1v1h-1zM1085 594h1v1h-1zM1089 594h3v1h-3zM1173 594h3v1h-3zM1235 594h1v1h-1zM999 595h2v1h-2zM1095 595h3v1h-3zM1167 595h3v1h-3zM1239 595h1v1h-1zM1101 596h3v1h-3zM1162 596h2v1h-2zM1240 596h2v1h-2zM994 597h2v1h-2zM1107 597h1v1h-1zM1157 597h1v1h-1zM1161 597h1v1h-1zM993 598h1v1h-1zM1108 598h2v1h-2zM1113 598h3v1h-3zM1119 598h3v1h-3zM1125 598h3v1h-3zM1131 598h2v1h-2zM1155 598h2v1h-2zM1245 598h2v1h-2zM989 599h1v1h-1zM1133 599h1v1h-1zM1137 599h3v1h-3zM1143 599h3v1h-3zM1149 599h3v1h-3zM1247 599h1v1h-1zM987 600h2v1h-2zM1251 600h1v1h-1zM1252 601h2v1h-2zM982 602h2v1h-2zM981 603h1v1h-1zM1257 603h1v1h-1zM977 604h1v1h-1zM1258 604h2v1h-2zM975 605h2v1h-2zM1263 606h1v1h-1zM971 607h1v1h-1zM1264 607h2v1h-2zM969 608h2v1h-2zM227 609h3v1h-3zM233 609h3v1h-3zM239 609h3v1h-3zM245 609h3v1h-3zM251 609h2v1h-2zM1269 609h3v1h-3zM216 610h2v1h-2zM221 610h3v1h-3zM253 610h1v1h-1zM210 611h2v1h-2zM215 611h1v1h-1zM257 611h3v1h-3zM964 611h2v1h-2zM1275 611h3v1h-3zM205 612h1v1h-1zM209 612h1v1h-1zM263 612h1v1h-1zM963 612h1v1h-1zM1281 612h3v1h-3zM1305 612h3v1h-3zM1311 612h3v1h-3zM1317 612h2v1h-2zM203 613h2v1h-2zM264 613h2v1h-2zM1287 613h3v1h-3zM1293 613h3v1h-3zM1299 613h3v1h-3zM959 614h1v1h-1zM198 615h2v1h-2zM269 615h3v1h-3zM957 615h2v1h-2zM197 616h1v1h-1zM193 617h1v1h-1zM275 617h2v1h-2zM952 617h2v1h-2zM191 618h2v1h-2zM277 618h1v1h-1zM951 618h1v1h-1zM185 619h3v1h-3zM181 620h1v1h-1zM946 620h2v1h-2zM179 621h2v1h-2zM281 621h1v1h-1zM945 621h1v1h-1zM173 622h3v1h-3zM282 622h2v1h-2zM167 623h3v1h-3zM940 623h2v1h-2zM156 624h2v1h-2zM161 624h3v1h-3zM939 624h1v1h-1zM150 625h2v1h-2zM155 625h1v1h-1zM287 625h1v1h-1zM149 626h1v1h-1zM288 626h2v1h-2zM933 626h3v1h-3zM143 627h3v1h-3zM43 628h1v1h-1zM47 628h3v1h-3zM53 628h3v1h-3zM59 628h3v1h-3zM65 628h3v1h-3zM71 628h3v1h-3zM77 628h3v1h-3zM83 628h3v1h-3zM139 628h1v1h-1zM928 628h2v1h-2zM41 629h2v1h-2zM89 629h3v1h-3zM95 629h3v1h-3zM101 629h3v1h-3zM107 629h3v1h-3zM113 629h3v1h-3zM119 629h3v1h-3zM125 629h3v1h-3zM131 629h3v1h-3zM137 629h2v1h-2zM927 629h1v1h-1zM35 630h3v1h-3zM293 630h1v1h-1zM921 630h3v1h-3zM31 631h1v1h-1zM294 631h1v1h-1zM916 631h2v1h-2zM29 632h2v1h-2zM295 632h1v1h-1zM915 632h1v1h-1zM24 633h2v1h-2zM909 633h3v1h-3zM23 634h1v1h-1zM19 635h1v1h-1zM299 635h1v1h-1zM903 635h3v1h-3zM17 636h2v1h-2zM300 636h1v1h-1zM899 636h1v1h-1zM13 637h1v1h-1zM301 637h1v1h-1zM897 637h2v1h-2zM11 638h2v1h-2zM893 638h1v1h-1zM891 639h2v1h-2zM7 640h1v1h-1zM886 640h2v1h-2zM5 641h2v1h-2zM305 641h1v1h-1zM885 641h1v1h-1zM306 642h1v1h-1zM1 643h1v1h-1zM307 643h1v1h-1zM881 643h1v1h-1zM0 644h1v1h-1zM879 644h2v1h-2zM311 647h1v1h-1zM875 647h1v1h-1zM312 648h1v1h-1zM873 648h2v1h-2zM313 649h1v1h-1zM869 651h1v1h-1zM868 652h1v1h-1zM317 653h1v1h-1zM867 653h1v1h-1zM318 654h1v1h-1zM319 655h1v1h-1zM862 656h2v1h-2zM861 657h1v1h-1zM322 659h1v1h-1zM323 660h1v1h-1zM857 660h1v1h-1zM324 661h1v1h-1zM856 661h1v1h-1zM855 662h1v1h-1zM328 665h1v1h-1zM851 665h1v1h-1zM329 666h1v1h-1zM850 666h1v1h-1zM330 667h1v1h-1zM849 667h1v1h-1zM333 671h1v1h-1zM844 671h2v1h-2zM334 672h1v1h-1zM843 672h1v1h-1zM335 673h1v1h-1zM711 674h3v1h-3zM705 675h3v1h-3zM717 675h3v1h-3zM699 676h3v1h-3zM723 676h2v1h-2zM838 676h2v1h-2zM339 677h1v1h-1zM694 677h2v1h-2zM725 677h1v1h-1zM837 677h1v1h-1zM340 678h1v1h-1zM693 678h1v1h-1zM729 678h1v1h-1zM341 679h1v1h-1zM687 679h3v1h-3zM730 679h2v1h-2zM683 680h1v1h-1zM735 680h1v1h-1zM833 680h1v1h-1zM681 681h2v1h-2zM736 681h2v1h-2zM832 681h1v1h-1zM676 682h2v1h-2zM831 682h1v1h-1zM345 683h1v1h-1zM675 683h1v1h-1zM741 683h2v1h-2zM346 684h1v1h-1zM669 684h3v1h-3zM743 684h1v1h-1zM347 685h1v1h-1zM665 685h1v1h-1zM827 685h1v1h-1zM663 686h2v1h-2zM747 686h2v1h-2zM826 686h1v1h-1zM658 687h2v1h-2zM749 687h1v1h-1zM825 687h1v1h-1zM657 688h1v1h-1zM753 688h1v1h-1zM351 689h1v1h-1zM652 689h2v1h-2zM754 689h2v1h-2zM352 690h1v1h-1zM651 690h1v1h-1zM821 690h1v1h-1zM353 691h1v1h-1zM646 691h2v1h-2zM759 691h2v1h-2zM820 691h1v1h-1zM645 692h1v1h-1zM761 692h1v1h-1zM819 692h1v1h-1zM436 693h2v1h-2zM441 693h3v1h-3zM447 693h1v1h-1zM641 693h1v1h-1zM357 694h1v1h-1zM435 694h1v1h-1zM448 694h2v1h-2zM639 694h2v1h-2zM765 694h3v1h-3zM358 695h2v1h-2zM429 695h3v1h-3zM453 695h1v1h-1zM814 695h2v1h-2zM454 696h2v1h-2zM633 696h3v1h-3zM771 696h2v1h-2zM813 696h1v1h-1zM423 697h3v1h-3zM773 697h1v1h-1zM363 698h1v1h-1zM419 698h1v1h-1zM459 698h1v1h-1zM629 698h1v1h-1zM777 698h3v1h-3zM807 698h3v1h-3zM364 699h2v1h-2zM417 699h2v1h-2zM460 699h2v1h-2zM627 699h2v1h-2zM783 699h3v1h-3zM801 699h3v1h-3zM413 700h1v1h-1zM789 700h3v1h-3zM795 700h3v1h-3zM369 701h1v1h-1zM411 701h2v1h-2zM465 701h1v1h-1zM622 701h2v1h-2zM370 702h2v1h-2zM407 702h1v1h-1zM466 702h1v1h-1zM621 702h1v1h-1zM405 703h2v1h-2zM467 703h1v1h-1zM375 704h2v1h-2zM401 704h1v1h-1zM617 704h1v1h-1zM377 705h1v1h-1zM381 705h3v1h-3zM394 705h2v1h-2zM399 705h2v1h-2zM616 705h1v1h-1zM387 706h3v1h-3zM393 706h1v1h-1zM471 706h1v1h-1zM615 706h1v1h-1zM472 707h1v1h-1zM473 708h1v1h-1zM611 708h1v1h-1zM610 709h1v1h-1zM609 710h1v1h-1zM477 711h1v1h-1zM478 712h2v1h-2zM605 713h1v1h-1zM604 714h1v1h-1zM603 715h1v1h-1zM483 716h1v1h-1zM484 717h2v1h-2zM599 718h1v1h-1zM597 719h2v1h-2zM489 721h1v1h-1zM490 722h2v1h-2zM592 723h2v1h-2zM591 724h1v1h-1zM495 726h1v1h-1zM496 727h2v1h-2zM587 727h1v1h-1zM586 728h1v1h-1zM585 729h1v1h-1zM501 730h1v1h-1zM502 731h1v1h-1zM503 732h1v1h-1zM581 732h1v1h-1zM579 733h2v1h-2zM507 735h1v1h-1zM508 736h2v1h-2zM575 736h1v1h-1zM574 737h1v1h-1zM573 738h1v1h-1zM513 739h2v1h-2zM515 740h1v1h-1zM569 740h1v1h-1zM567 741h2v1h-2zM519 742h2v1h-2zM521 743h1v1h-1zM562 743h2v1h-2zM561 744h1v1h-1zM525 745h3v1h-3zM531 746h3v1h-3zM556 746h2v1h-2zM537 747h3v1h-3zM543 747h3v1h-3zM549 747h3v1h-3zM555 747h1v1h-1z" fill="#ff0000"/>
<line x1="0" y1="801.5" x2="1626" y2="801.5" stroke="#c0c0c0" stroke-width="1" stroke-dasharray="3 3" stroke-dashoffset="1"/>
<line x1="0" y1="848.5" x2="1626" y2="848.5" stroke="#c0c0c0" stroke-width="1" stroke-dasharray="3 3" stroke-dashoffset="1"/>
<line x1="0" y1="904.5" x2="1626" y2="904.5" stroke="#c0c0c0" stroke-width="1" stroke-dasharray="3 3" stroke-dashoffset="1"/>
<path d="M1153 817h15v1h-15zM1150 818h3v1h-3zM1168 818h2v1h-2zM1149 819h1v1h-1zM1170 819h3v1h-3zM1173 820h1v1h-1zM1148 820h1v2h-1zM1174 821h1v1h-1zM1175 822h1v1h-1zM1147 822h1v2h-1zM1189 822h1v2h-1zM1176 823h1v1h-1zM1188 823h1v1h-1zM1177 824h1v1h-1zM1187 824h1v1h-1zM1146 824h1v2h-1zM1190 824h1v3h-1zM190 825h3v1h-3zM1178 825h1v1h-1zM1186 825h1v1h-1zM189 826h1v1h-1zM193 826h5v1h-5zM950 826h2v1h-2zM973 826h2v1h-2zM1179 826h1v1h-1zM1185 826h1v1h-1zM1145 826h1v2h-1zM188 827h1v1h-1zM198 827h4v1h-4zM949 827h1v1h-1zM952 827h2v1h-2zM971 827h2v1h-2zM975 827h3v1h-3zM1180 827h1v1h-1zM1184 827h1v1h-1zM1191 827h1v4h-1zM202 828h4v1h-4zM948 828h1v1h-1zM954 828h3v1h-3zM969 828h2v1h-2zM978 828h2v1h-2zM1181 828h3v1h-3zM187 828h1v2h-1zM1144 828h1v2h-1zM206 829h1v1h-1zM947 829h1v1h-1zM957 829h5v1h-5zM967 829h2v1h-2zM980 829h2v1h-2zM1012 829h3v1h-3zM186 830h1v1h-1zM207 830h1v1h-1zM962 830h5v1h-5zM982 830h2v1h-2zM1010 830h2v1h-2zM1015 830h2v1h-2zM946 830h1v2h-1zM1143 830h1v3h-1zM208 831h1v1h-1zM984 831h1v1h-1zM1007 831h3v1h-3zM1017 831h1v1h-1zM185 831h1v2h-1zM1192 831h1v5h-1zM143 832h12v1h-12zM209 832h2v1h-2zM945 832h1v1h-1zM985 832h2v1h-2zM1002 832h5v1h-5zM1018 832h2v1h-2zM1026 832h4v1h-4zM138 833h5v1h-5zM155 833h4v1h-4zM211 833h1v1h-1zM987 833h1v1h-1zM996 833h6v1h-6zM1020 833h6v1h-6zM1077 833h2v1h-2zM184 833h1v2h-1zM944 833h1v2h-1zM1030 833h1v2h-1zM1142 833h1v2h-1zM134 834h4v1h-4zM159 834h1v1h-1zM212 834h1v1h-1zM988 834h2v1h-2zM991 834h5v1h-5zM1075 834h2v1h-2zM1079 834h1v1h-1zM160 835h1v1h-1zM183 835h1v1h-1zM213 835h1v1h-1zM901 835h3v1h-3zM943 835h1v1h-1zM990 835h1v1h-1zM1074 835h1v1h-1zM1080 835h1v1h-1zM1141 835h1v1h-1zM1031 835h1v2h-1zM133 835h1v3h-1zM161 836h1v1h-1zM900 836h1v1h-1zM904 836h1v1h-1zM942 836h1v1h-1zM1072 836h2v1h-2zM1081 836h2v1h-2zM1140 836h1v1h-1zM182 836h1v2h-1zM214 836h1v2h-1zM1193 836h1v4h-1zM162 837h1v1h-1zM814 837h12v1h-12zM899 837h1v1h-1zM905 837h1v1h-1zM941 837h1v1h-1zM1070 837h2v1h-2zM1083 837h1v1h-1zM1139 837h1v1h-1zM1032 837h1v2h-1zM163 838h1v1h-1zM181 838h1v1h-1zM215 838h1v1h-1zM826 838h4v1h-4zM898 838h1v1h-1zM906 838h2v1h-2zM940 838h1v1h-1zM1054 838h16v1h-16zM1084 838h1v1h-1zM1101 838h7v1h-7zM1138 838h1v2h-1zM132 838h1v3h-1zM813 838h1v3h-1zM164 839h1v1h-1zM180 839h1v1h-1zM216 839h1v1h-1zM830 839h1v1h-1zM897 839h1v1h-1zM908 839h1v1h-1zM938 839h2v1h-2zM1053 839h1v1h-1zM1085 839h2v1h-2zM1099 839h2v1h-2zM1108 839h11v1h-11zM1292 839h5v1h-5zM1315 839h4v1h-4zM1033 839h1v3h-1zM20 840h2v1h-2zM165 840h1v1h-1zM179 840h1v1h-1zM217 840h1v1h-1zM831 840h1v1h-1zM896 840h1v1h-1zM909 840h3v1h-3zM937 840h1v1h-1zM1087 840h3v1h-3zM1097 840h2v1h-2zM1119 840h1v1h-1zM1137 840h1v1h-1zM1290 840h2v1h-2zM1297 840h4v1h-4zM1311 840h4v1h-4zM1052 840h1v2h-1zM1194 840h1v4h-1zM18 841h2v1h-2zM22 841h1v1h-1zM166 841h2v1h-2zM178 841h1v1h-1zM832 841h1v1h-1zM895 841h1v1h-1zM912 841h4v1h-4zM936 841h1v1h-1zM1090 841h2v1h-2zM1095 841h2v1h-2zM1120 841h1v1h-1zM1136 841h1v1h-1zM1288 841h2v1h-2zM1301 841h10v1h-10zM218 841h1v2h-1zM131 841h1v3h-1zM812 841h1v4h-1zM15 842h3v1h-3zM168 842h2v1h-2zM177 842h1v1h-1zM228 842h2v1h-2zM833 842h1v1h-1zM894 842h1v1h-1zM916 842h3v1h-3zM934 842h2v1h-2zM1092 842h3v1h-3zM1121 842h1v1h-1zM1135 842h1v1h-1zM1286 842h2v1h-2zM23 842h1v2h-1zM1034 842h1v2h-1zM1051 842h1v2h-1zM14 843h1v1h-1zM170 843h2v1h-2zM175 843h2v1h-2zM219 843h1v1h-1zM226 843h2v1h-2zM834 843h1v1h-1zM844 843h2v1h-2zM893 843h1v1h-1zM919 843h3v1h-3zM931 843h3v1h-3zM1122 843h1v1h-1zM1134 843h1v1h-1zM1284 843h2v1h-2zM230 843h1v2h-1zM846 843h1v2h-1zM13 844h1v1h-1zM172 844h1v1h-1zM174 844h1v1h-1zM220 844h1v1h-1zM225 844h1v1h-1zM835 844h1v1h-1zM842 844h2v1h-2zM922 844h2v1h-2zM928 844h3v1h-3zM1123 844h1v1h-1zM1132 844h2v1h-2zM1248 844h8v1h-8zM1282 844h2v1h-2zM24 844h1v2h-1zM892 844h1v2h-1zM1035 844h1v2h-1zM130 844h1v3h-1zM1050 844h1v3h-1zM1195 844h1v5h-1zM12 845h1v1h-1zM173 845h1v1h-1zM221 845h1v1h-1zM223 845h2v1h-2zM836 845h1v1h-1zM840 845h2v1h-2zM847 845h1v1h-1zM924 845h4v1h-4zM1124 845h1v1h-1zM1129 845h3v1h-3zM1235 845h13v1h-13zM1256 845h2v1h-2zM1281 845h1v1h-1zM231 845h1v2h-1zM811 845h1v3h-1zM11 846h1v1h-1zM222 846h1v1h-1zM837 846h3v1h-3zM1125 846h1v1h-1zM1127 846h2v1h-2zM1231 846h4v1h-4zM1258 846h2v1h-2zM1279 846h2v1h-2zM25 846h1v2h-1zM848 846h1v2h-1zM891 846h1v2h-1zM1036 846h1v2h-1zM9 847h2v1h-2zM1126 847h1v1h-1zM1227 847h4v1h-4zM1260 847h2v1h-2zM1278 847h1v1h-1zM232 847h1v2h-1zM1049 847h1v2h-1zM129 847h1v3h-1zM8 848h1v1h-1zM849 848h1v1h-1zM890 848h1v1h-1zM1223 848h4v1h-4zM1262 848h1v1h-1zM1277 848h1v1h-1zM26 848h1v2h-1zM1037 848h1v2h-1zM810 848h1v4h-1zM7 849h1v1h-1zM85 849h2v1h-2zM1222 849h1v1h-1zM1263 849h1v1h-1zM1276 849h1v1h-1zM233 849h1v2h-1zM850 849h1v2h-1zM889 849h1v2h-1zM1048 849h1v2h-1zM1196 849h1v4h-1zM6 850h1v1h-1zM87 850h1v1h-1zM1038 850h1v1h-1zM1221 850h1v1h-1zM1275 850h1v1h-1zM27 850h1v2h-1zM84 850h1v2h-1zM1264 850h1v2h-1zM128 850h1v3h-1zM2 851h4v1h-4zM88 851h1v1h-1zM101 851h6v1h-6zM851 851h1v1h-1zM1039 851h1v1h-1zM1205 851h1v1h-1zM1274 851h1v1h-1zM234 851h1v2h-1zM888 851h1v2h-1zM1047 851h1v2h-1zM1220 851h1v2h-1zM0 852h2v1h-2zM83 852h1v1h-1zM89 852h1v1h-1zM99 852h2v1h-2zM107 852h4v1h-4zM1040 852h2v1h-2zM1204 852h1v1h-1zM1206 852h1v1h-1zM1265 852h1v1h-1zM1273 852h1v1h-1zM28 852h1v2h-1zM852 852h1v2h-1zM809 852h1v4h-1zM68 853h3v1h-3zM82 853h1v1h-1zM90 853h1v1h-1zM98 853h1v1h-1zM111 853h1v1h-1zM1042 853h1v1h-1zM1202 853h2v1h-2zM1266 853h1v1h-1zM235 853h1v2h-1zM887 853h1v2h-1zM1046 853h1v2h-1zM1207 853h1v2h-1zM1219 853h1v2h-1zM1272 853h1v2h-1zM127 853h1v3h-1zM1197 853h1v3h-1zM29 854h1v1h-1zM45 854h11v1h-11zM66 854h2v1h-2zM71 854h1v1h-1zM91 854h1v1h-1zM96 854h2v1h-2zM112 854h1v1h-1zM853 854h1v1h-1zM1043 854h2v1h-2zM1201 854h1v1h-1zM1267 854h1v1h-1zM81 854h1v2h-1zM30 855h2v1h-2zM44 855h1v1h-1zM56 855h4v1h-4zM63 855h3v1h-3zM72 855h1v1h-1zM92 855h2v1h-2zM95 855h1v1h-1zM113 855h2v1h-2zM645 855h6v1h-6zM854 855h4v1h-4zM867 855h14v1h-14zM1045 855h1v1h-1zM1200 855h1v1h-1zM1218 855h1v1h-1zM1268 855h1v1h-1zM1271 855h1v1h-1zM236 855h1v2h-1zM886 855h1v2h-1zM1208 855h1v2h-1zM32 856h1v1h-1zM42 856h2v1h-2zM60 856h3v1h-3zM73 856h2v1h-2zM80 856h1v1h-1zM94 856h1v1h-1zM115 856h1v1h-1zM644 856h1v1h-1zM651 856h4v1h-4zM858 856h9v1h-9zM881 856h5v1h-5zM1198 856h2v1h-2zM1269 856h2v1h-2zM126 856h1v2h-1zM1217 856h1v2h-1zM808 856h1v3h-1zM33 857h2v1h-2zM41 857h1v1h-1zM75 857h1v1h-1zM79 857h1v1h-1zM116 857h1v1h-1zM643 857h1v1h-1zM655 857h1v1h-1zM1209 857h1v1h-1zM237 857h1v2h-1zM35 858h1v1h-1zM40 858h1v1h-1zM76 858h1v1h-1zM78 858h1v1h-1zM117 858h9v1h-9zM564 858h3v1h-3zM642 858h1v1h-1zM656 858h1v1h-1zM1210 858h1v2h-1zM1216 858h1v2h-1zM36 859h4v1h-4zM77 859h1v1h-1zM238 859h5v1h-5zM561 859h3v1h-3zM567 859h1v1h-1zM581 859h2v1h-2zM641 859h1v1h-1zM657 859h1v1h-1zM807 859h1v4h-1zM243 860h4v1h-4zM558 860h3v1h-3zM568 860h2v1h-2zM579 860h2v1h-2zM583 860h3v1h-3zM640 860h1v1h-1zM658 860h1v1h-1zM1211 860h1v2h-1zM1215 860h1v2h-1zM247 861h1v1h-1zM553 861h5v1h-5zM570 861h1v1h-1zM578 861h1v1h-1zM586 861h3v1h-3zM605 861h1v1h-1zM629 861h4v1h-4zM639 861h1v1h-1zM659 861h2v1h-2zM248 862h2v1h-2zM550 862h3v1h-3zM571 862h1v1h-1zM576 862h2v1h-2zM589 862h2v1h-2zM604 862h1v1h-1zM606 862h1v1h-1zM633 862h4v1h-4zM638 862h1v1h-1zM661 862h1v1h-1zM1212 862h1v1h-1zM628 862h1v2h-1zM1214 862h1v2h-1zM250 863h1v1h-1zM572 863h4v1h-4zM591 863h1v1h-1zM603 863h1v1h-1zM607 863h1v1h-1zM637 863h1v1h-1zM662 863h18v1h-18zM692 863h4v1h-4zM1213 863h1v1h-1zM549 863h1v3h-1zM806 863h1v3h-1zM251 864h2v1h-2zM592 864h2v1h-2zM602 864h1v1h-1zM608 864h1v1h-1zM627 864h1v1h-1zM680 864h4v1h-4zM688 864h4v1h-4zM696 864h5v1h-5zM253 865h1v1h-1zM594 865h1v1h-1zM601 865h1v1h-1zM609 865h1v1h-1zM684 865h4v1h-4zM701 865h1v1h-1zM626 865h1v2h-1zM702 865h1v2h-1zM254 866h1v1h-1zM382 866h1v1h-1zM595 866h1v1h-1zM599 866h2v1h-2zM610 866h1v1h-1zM805 866h1v2h-1zM548 866h1v3h-1zM255 867h2v1h-2zM381 867h1v1h-1zM383 867h1v1h-1zM405 867h2v1h-2zM596 867h3v1h-3zM611 867h1v1h-1zM625 867h1v1h-1zM703 867h1v1h-1zM257 868h1v1h-1zM384 868h2v1h-2zM404 868h1v1h-1zM407 868h2v1h-2zM612 868h1v1h-1zM624 868h1v1h-1zM781 868h5v1h-5zM804 868h1v1h-1zM704 868h1v2h-1zM380 868h1v3h-1zM258 869h2v1h-2zM386 869h1v1h-1zM403 869h1v1h-1zM409 869h1v1h-1zM613 869h1v1h-1zM779 869h2v1h-2zM786 869h4v1h-4zM803 869h1v1h-1zM623 869h1v2h-1zM547 869h1v3h-1zM260 870h1v1h-1zM387 870h1v1h-1zM402 870h1v1h-1zM410 870h2v1h-2zM614 870h3v1h-3zM705 870h1v1h-1zM777 870h2v1h-2zM790 870h2v1h-2zM802 870h1v1h-1zM261 871h2v1h-2zM388 871h1v1h-1zM401 871h1v1h-1zM412 871h1v1h-1zM617 871h4v1h-4zM622 871h1v1h-1zM765 871h5v1h-5zM775 871h2v1h-2zM792 871h1v1h-1zM801 871h1v1h-1zM706 871h1v2h-1zM379 871h1v3h-1zM263 872h2v1h-2zM389 872h1v1h-1zM400 872h1v1h-1zM413 872h2v1h-2zM621 872h1v1h-1zM764 872h1v1h-1zM770 872h5v1h-5zM793 872h2v1h-2zM800 872h1v1h-1zM546 872h1v3h-1zM265 873h1v1h-1zM390 873h3v1h-3zM399 873h1v1h-1zM415 873h2v1h-2zM707 873h1v1h-1zM749 873h3v1h-3zM762 873h2v1h-2zM795 873h1v1h-1zM799 873h1v1h-1zM266 874h2v1h-2zM393 874h4v1h-4zM398 874h1v1h-1zM417 874h1v1h-1zM748 874h1v1h-1zM752 874h2v1h-2zM761 874h1v1h-1zM796 874h3v1h-3zM708 874h1v2h-1zM378 874h1v3h-1zM268 875h2v1h-2zM397 875h1v1h-1zM418 875h2v1h-2zM747 875h1v1h-1zM754 875h2v1h-2zM759 875h2v1h-2zM545 875h1v3h-1zM270 876h1v1h-1zM420 876h2v1h-2zM709 876h1v1h-1zM756 876h3v1h-3zM746 876h1v2h-1zM271 877h1v1h-1zM422 877h1v1h-1zM710 877h1v1h-1zM377 877h1v3h-1zM272 878h1v1h-1zM423 878h1v1h-1zM711 878h2v1h-2zM745 878h1v1h-1zM544 878h1v3h-1zM273 879h1v1h-1zM424 879h2v1h-2zM713 879h1v1h-1zM744 879h1v1h-1zM274 880h1v1h-1zM426 880h1v1h-1zM714 880h1v1h-1zM743 880h1v1h-1zM376 880h1v3h-1zM275 881h1v1h-1zM427 881h1v1h-1zM518 881h12v1h-12zM715 881h1v1h-1zM742 881h1v1h-1zM543 881h1v3h-1zM276 882h1v1h-1zM428 882h1v1h-1zM530 882h4v1h-4zM716 882h2v1h-2zM721 882h6v1h-6zM741 882h1v1h-1zM517 882h1v2h-1zM277 883h1v1h-1zM429 883h1v1h-1zM534 883h2v1h-2zM718 883h3v1h-3zM727 883h1v1h-1zM740 883h1v1h-1zM375 883h1v2h-1zM278 884h1v1h-1zM536 884h2v1h-2zM728 884h1v1h-1zM738 884h2v1h-2zM430 884h1v2h-1zM516 884h1v2h-1zM542 884h1v2h-1zM279 885h1v1h-1zM538 885h2v1h-2zM729 885h2v1h-2zM737 885h1v1h-1zM374 885h1v2h-1zM280 886h1v1h-1zM540 886h1v1h-1zM731 886h1v1h-1zM736 886h1v1h-1zM431 886h1v2h-1zM541 886h1v2h-1zM515 886h1v3h-1zM281 887h1v1h-1zM732 887h1v1h-1zM735 887h1v1h-1zM373 887h1v2h-1zM282 888h1v1h-1zM432 888h1v1h-1zM733 888h2v1h-2zM283 889h1v1h-1zM372 889h1v1h-1zM433 889h1v2h-1zM514 889h1v2h-1zM284 890h1v1h-1zM371 890h1v1h-1zM285 891h1v1h-1zM370 891h1v1h-1zM434 891h1v1h-1zM485 891h5v1h-5zM513 891h1v3h-1zM286 892h2v1h-2zM369 892h1v1h-1zM484 892h1v1h-1zM490 892h5v1h-5zM435 892h1v2h-1zM288 893h2v1h-2zM367 893h2v1h-2zM483 893h1v1h-1zM495 893h1v1h-1zM290 894h3v1h-3zM298 894h4v1h-4zM366 894h1v1h-1zM482 894h1v1h-1zM496 894h1v1h-1zM436 894h1v2h-1zM512 894h1v2h-1zM293 895h5v1h-5zM302 895h1v1h-1zM365 895h1v1h-1zM462 895h4v1h-4zM481 895h1v1h-1zM497 895h2v1h-2zM303 896h1v1h-1zM364 896h1v1h-1zM437 896h1v1h-1zM461 896h1v1h-1zM466 896h6v1h-6zM480 896h1v1h-1zM499 896h1v1h-1zM511 896h1v3h-1zM304 897h1v1h-1zM362 897h2v1h-2zM438 897h5v1h-5zM460 897h1v1h-1zM472 897h4v1h-4zM479 897h1v1h-1zM500 897h1v1h-1zM305 898h1v1h-1zM361 898h1v1h-1zM443 898h4v1h-4zM459 898h1v1h-1zM476 898h3v1h-3zM501 898h2v1h-2zM306 899h1v1h-1zM360 899h1v1h-1zM447 899h1v1h-1zM458 899h1v1h-1zM503 899h3v1h-3zM510 899h1v2h-1zM317 900h6v1h-6zM340 900h7v1h-7zM358 900h2v1h-2zM448 900h2v1h-2zM457 900h1v1h-1zM506 900h2v1h-2zM307 900h1v2h-1zM315 901h2v1h-2zM323 901h8v1h-8zM336 901h4v1h-4zM347 901h11v1h-11zM450 901h1v1h-1zM456 901h1v1h-1zM508 901h2v1h-2zM308 902h1v1h-1zM312 902h3v1h-3zM331 902h5v1h-5zM451 902h2v1h-2zM455 902h1v1h-1zM309 903h3v1h-3zM453 903h2v1h-2z" fill="#1e90ff"/>
<g shape-rendering="auto" text-rendering="geometricPrecision">
<rect x="1627" y="32" width="2" height="1" fill="#000"/>
<text x="1632" y="36" font-size="10" fill="#000" text-anchor="start" font-family="Liberation Sans, sans-serif" textLength="33" lengthAdjust="spacingAndGlyphs">136.055</text>
<rect x="1627" y="65" width="2" height="1" fill="#000"/>
<text x="1632" y="69" font-size="10" fill="#000" text-anchor="start" font-family="Liberation Sans, sans-serif" textLength="33" lengthAdjust="spacingAndGlyphs">135.455</text>
<rect x="1627" y="98" width="2" height="1" fill="#000"/>
<text x="1632" y="102" font-size="10" fill="#000" text-anchor="start" font-family="Liberation Sans, sans-serif" textLength="33" lengthAdjust="spacingAndGlyphs">134.840</text>
<rect x="1627" y="131" width="2" height="1" fill="#000"/>
<text x="1632" y="135" font-size="10" fill="#000" text-anchor="start" font-family="Liberation Sans, sans-serif" textLength="33" lengthAdjust="spacingAndGlyphs">134.240</text>
<rect x="1627" y="164" width="2" height="1" fill="#000"/>
<text x="1632" y="168" font-size="10" fill="#000" text-anchor="start" font-family="Liberation Sans, sans-serif" textLength="33" lengthAdjust="spacingAndGlyphs">133.625</text>
<rect x="1627" y="197" width="2" height="1" fill="#000"/>
<text x="1632" y="201" font-size="10" fill="#000" text-anchor="start" font-family="Liberation Sans, sans-serif" textLength="33" lengthAdjust="spacingAndGlyphs">133.025</text>
<rect x="1627" y="230" width="2" height="1" fill="#000"/>
<text x="1632" y="234" font-size="10" fill="#000" text-anchor="start" font-family="Liberation Sans, sans-serif" textLength="33" lengthAdjust="spacingAndGlyphs">132.410</text>
<rect x="1627" y="263" width="2" height="1" fill="#000"/>
<text x="1632" y="267" font-size="10" fill="#000" text-anchor="start" font-family="Liberation Sans, sans-serif" textLength="33" lengthAdjust="spacingAndGlyphs">131.810</text>
<rect x="1627" y="296" width="2" height="1" fill="#000"/>
<text x="1632" y="300" font-size="10" fill="#000" text-anchor="start" font-family="Liberation Sans, sans-serif" textLength="33" lengthAdjust="spacingAndGlyphs">131.195</text>
<rect x="1627" y="329" width="2" height="1" fill="#000"/>
<text x="1632" y="333" font-size="10" fill="#000" text-anchor="start" font-family="Liberation Sans, sans-serif" textLength="33" lengthAdjust="spacingAndGlyphs">130.595</text>
<rect x="1627" y="362" width="2" height="1" fill="#000"/>
<text x="1632" y="366" font-size="10" fill="#000" text-anchor="start" font-family="Liberation Sans, sans-serif" textLength="33" lengthAdjust="spacingAndGlyphs">129.980</text>
<rect x="1627" y="395" width="2" height="1" fill="#000"/>
<text x="1632" y="399" font-size="10" fill="#000" text-anchor="start" font-family="Liberation Sans, sans-serif" textLength="33" lengthAdjust="spacingAndGlyphs">129.380</text>
<rect x="1627" y="428" width="2" height="1" fill="#000"/>
<text x="1632" y="432" font-size="10" fill="#000" text-anchor="start" font-family="Liberation Sans, sans-serif" textLength="33" lengthAdjust="spacingAndGlyphs">128.765</text>
<rect x="1627" y="461" width="2" height="1" fill="#000"/>
<text x="1632" y="465" font-size="10" fill="#000" text-anchor="start" font-family="Liberation Sans, sans-serif" textLength="33" lengthAdjust="spacingAndGlyphs">128.165</text>
<rect x="1627" y="494" width="2" height="1" fill="#000"/>
<text x="1632" y="498" font-size="10" fill="#000" text-anchor="start" font-family="Liberation Sans, sans-serif" textLength="33" lengthAdjust="spacingAndGlyphs">127.550</text>
<rect x="1627" y="527" width="2" height="1" fill="#000"/>
<text x="1632" y="531" font-size="10" fill="#000" text-anchor="start" font-family="Liberation Sans, sans-serif" textLength="33" lengthAdjust="spacingAndGlyphs">126.935</text>
<rect x="1627" y="560" width="2" height="1" fill="#000"/>
<text x="1632" y="564" font-size="10" fill="#000" text-anchor="start" font-family="Liberation Sans, sans-serif" textLength="33" lengthAdjust="spacingAndGlyphs">126.335</text>
<rect x="1628" y="284" width="41" height="11" fill="#ff0000" shape-rendering="crispEdges"/>
<text x="1632" y="293" font-size="10" fill="#fff" text-anchor="start" font-family="Liberation Sans, sans-serif" textLength="33" lengthAdjust="spacingAndGlyphs">131.310</text>
<rect x="1628" y="308" width="41" height="11" fill="#ff4500" shape-rendering="crispEdges"/>
<text x="1632" y="317" font-size="10" fill="#fff" text-anchor="start" font-family="Liberation Sans, sans-serif" textLength="33" lengthAdjust="spacingAndGlyphs">130.869</text>
<rect x="1628" y="333" width="41" height="11" fill="#32cd32" shape-rendering="crispEdges"/>
<text x="1632" y="342" font-size="10" fill="#fff" text-anchor="start" font-family="Liberation Sans, sans-serif" textLength="33" lengthAdjust="spacingAndGlyphs">130.409</text>
<rect x="1628" y="358" width="41" height="11" fill="#000000" shape-rendering="crispEdges"/>
<text x="1632" y="367" font-size="10" fill="#fff" text-anchor="start" font-family="Liberation Sans, sans-serif" textLength="33" lengthAdjust="spacingAndGlyphs">129.969</text>
<rect x="1628" y="391" width="41" height="11" fill="#0000ff" shape-rendering="crispEdges"/>
<text x="1632" y="400" font-size="10" fill="#fff" text-anchor="start" font-family="Liberation Sans, sans-serif" textLength="33" lengthAdjust="spacingAndGlyphs">129.343</text>
<rect x="1628" y="418" width="41" height="11" fill="#0000ff" shape-rendering="crispEdges"/>
<text x="1632" y="427" font-size="10" fill="#fff" text-anchor="start" font-family="Liberation Sans, sans-serif" textLength="33" lengthAdjust="spacingAndGlyphs">128.846</text>
<text transform="translate(1630,576) scale(0.9,1)" font-size="10" fill="#000" text-anchor="start" font-family="Liberation Sans, sans-serif">0.4714</text>
<text transform="translate(1630,626) scale(0.9,1)" font-size="10" fill="#000" text-anchor="start" font-family="Liberation Sans, sans-serif">0.00</text>
<text transform="translate(1630,763) scale(0.9,1)" font-size="10" fill="#000" text-anchor="start" font-family="Liberation Sans, sans-serif">-1.2234</text>
<rect x="1627" y="567" width="2" height="1" fill="#000"/>
<rect x="1627" y="622" width="2" height="1" fill="#000"/>
<rect x="1627" y="765" width="2" height="1" fill="#000"/>
<text transform="translate(1630,779) scale(0.9,1)" font-size="10" fill="#000" text-anchor="start" font-family="Liberation Sans, sans-serif">100</text>
<text transform="translate(1630,805) scale(0.9,1)" font-size="10" fill="#000" text-anchor="start" font-family="Liberation Sans, sans-serif">80</text>
<text transform="translate(1630,852) scale(0.9,1)" font-size="10" fill="#000" text-anchor="start" font-family="Liberation Sans, sans-serif">50</text>
<text transform="translate(1630,908) scale(0.9,1)" font-size="10" fill="#000" text-anchor="start" font-family="Liberation Sans, sans-serif">15</text>
<text transform="translate(1630,925) scale(0.9,1)" font-size="10" fill="#000" text-anchor="start" font-family="Liberation Sans, sans-serif">0</text>
<rect x="1627" y="770" width="2" height="1" fill="#000"/>
<rect x="1627" y="801" width="2" height="1" fill="#000"/>
<rect x="1627" y="848" width="2" height="1" fill="#000"/>
<rect x="1627" y="904" width="2" height="1" fill="#000"/>
<rect x="1627" y="927" width="2" height="1" fill="#000"/>
<rect x="-2" y="929" width="1" height="4" fill="#000" shape-rendering="crispEdges"/>
<text transform="translate(-3,941) scale(0.925,1)" font-size="10" fill="#000" text-anchor="start" font-family="Liberation Sans, sans-serif">19 Jul 2019</text>
<rect x="62" y="929" width="1" height="4" fill="#000" shape-rendering="crispEdges"/>
<text transform="translate(61,941) scale(0.925,1)" font-size="10" fill="#000" text-anchor="start" font-family="Liberation Sans, sans-serif">22 Jul 20:00</text>
<rect x="126" y="929" width="1" height="4" fill="#000" shape-rendering="crispEdges"/>
<text transform="translate(125,941) scale(0.925,1)" font-size="10" fill="#000" text-anchor="start" font-family="Liberation Sans, sans-serif">24 Jul 04:00</text>
<rect x="190" y="929" width="1" height="4" fill="#000" shape-rendering="crispEdges"/>
<text transform="translate(189,941) scale(0.925,1)" font-size="10" fill="#000" text-anchor="start" font-family="Liberation Sans, sans-serif">25 Jul 12:00</text>
<rect x="254" y="929" width="1" height="4" fill="#000" shape-rendering="crispEdges"/>
<text transform="translate(253,941) scale(0.925,1)" font-size="10" fill="#000" text-anchor="start" font-family="Liberation Sans, sans-serif">28 Jul 23:00</text>
<rect x="318" y="929" width="1" height="4" fill="#000" shape-rendering="crispEdges"/>
<text transform="translate(317,941) scale(0.925,1)" font-size="10" fill="#000" text-anchor="start" font-family="Liberation Sans, sans-serif">30 Jul 04:00</text>
<rect x="382" y="929" width="1" height="4" fill="#000" shape-rendering="crispEdges"/>
<text transform="translate(381,941) scale(0.925,1)" font-size="10" fill="#000" text-anchor="start" font-family="Liberation Sans, sans-serif">31 Jul 12:00</text>
<rect x="446" y="929" width="1" height="4" fill="#000" shape-rendering="crispEdges"/>
<text transform="translate(445,941) scale(0.957,1)" font-size="10" fill="#000" text-anchor="start" font-family="Liberation Sans, sans-serif">1 Aug 20:00</text>
<rect x="510" y="929" width="1" height="4" fill="#000" shape-rendering="crispEdges"/>
<text transform="translate(509,941) scale(0.957,1)" font-size="10" fill="#000" text-anchor="start" font-family="Liberation Sans, sans-serif">5 Aug 04:00</text>
<rect x="574" y="929" width="1" height="4" fill="#000" shape-rendering="crispEdges"/>
<text transform="translate(573,941) scale(0.957,1)" font-size="10" fill="#000" text-anchor="start" font-family="Liberation Sans, sans-serif">6 Aug 12:00</text>
<rect x="638" y="929" width="1" height="4" fill="#000" shape-rendering="crispEdges"/>
<text transform="translate(637,941) scale(0.957,1)" font-size="10" fill="#000" text-anchor="start" font-family="Liberation Sans, sans-serif">7 Aug 20:00</text>
<rect x="702" y="929" width="1" height="4" fill="#000" shape-rendering="crispEdges"/>
<text transform="translate(701,941) scale(0.957,1)" font-size="10" fill="#000" text-anchor="start" font-family="Liberation Sans, sans-serif">9 Aug 04:00</text>
<rect x="766" y="929" width="1" height="4" fill="#000" shape-rendering="crispEdges"/>
<text transform="translate(765,941) scale(0.957,1)" font-size="10" fill="#000" text-anchor="start" font-family="Liberation Sans, sans-serif">12 Aug 12:00</text>
<rect x="830" y="929" width="1" height="4" fill="#000" shape-rendering="crispEdges"/>
<text transform="translate(829,941) scale(0.957,1)" font-size="10" fill="#000" text-anchor="start" font-family="Liberation Sans, sans-serif">13 Aug 20:00</text>
<rect x="894" y="929" width="1" height="4" fill="#000" shape-rendering="crispEdges"/>
<text transform="translate(893,941) scale(0.957,1)" font-size="10" fill="#000" text-anchor="start" font-family="Liberation Sans, sans-serif">15 Aug 04:00</text>
<rect x="958" y="929" width="1" height="4" fill="#000" shape-rendering="crispEdges"/>
<text transform="translate(957,941) scale(0.957,1)" font-size="10" fill="#000" text-anchor="start" font-family="Liberation Sans, sans-serif">16 Aug 12:00</text>
<rect x="1022" y="929" width="1" height="4" fill="#000" shape-rendering="crispEdges"/>
<text transform="translate(1021,941) scale(0.957,1)" font-size="10" fill="#000" text-anchor="start" font-family="Liberation Sans, sans-serif">19 Aug 20:00</text>
<rect x="1086" y="929" width="1" height="4" fill="#000" shape-rendering="crispEdges"/>
<text transform="translate(1085,941) scale(0.957,1)" font-size="10" fill="#000" text-anchor="start" font-family="Liberation Sans, sans-serif">21 Aug 04:00</text>
<rect x="1150" y="929" width="1" height="4" fill="#000" shape-rendering="crispEdges"/>
<text transform="translate(1149,941) scale(0.957,1)" font-size="10" fill="#000" text-anchor="start" font-family="Liberation Sans, sans-serif">22 Aug 12:00</text>
<rect x="1214" y="929" width="1" height="4" fill="#000" shape-rendering="crispEdges"/>
<text transform="translate(1213,941) scale(0.957,1)" font-size="10" fill="#000" text-anchor="start" font-family="Liberation Sans, sans-serif">25 Aug 23:00</text>
<rect x="1278" y="929" width="1" height="4" fill="#000" shape-rendering="crispEdges"/>
<text transform="translate(1277,941) scale(0.957,1)" font-size="10" fill="#000" text-anchor="start" font-family="Liberation Sans, sans-serif">27 Aug 04:00</text>
<polygon points="1,39 4.5,35 8,39" fill="#000"/>
<text x="13" y="40" font-size="10" fill="#000" text-anchor="start" font-family="Liberation Sans, sans-serif" textLength="200" lengthAdjust="spacingAndGlyphs">GBPJPY-,H4&#160; 129.902 129.972 129.901 129.969</text>
<text x="2" y="578" font-size="10" fill="#000" text-anchor="start" font-family="Liberation Sans, sans-serif" textLength="128" lengthAdjust="spacingAndGlyphs">MACD(12,26,9) 0.1338 0.0850</text>
<text x="2" y="781" font-size="10" fill="#000" text-anchor="start" font-family="Liberation Sans, sans-serif" textLength="68" lengthAdjust="spacingAndGlyphs">RSI(14) 55.8080</text>
<text x="1385" y="267" font-size="32" font-weight="600" fill="#00f000" font-family="Noto Serif CJK SC, Noto Sans CJK SC, serif" style="text-shadow:1px 1px 0 #0a4a1a" textLength="162" lengthAdjust="spacing">多空转折点</text>
<rect x="1449.5" y="323.5" width="99" height="32" fill="#fff" stroke="#ff0000" stroke-width="1" shape-rendering="crispEdges"/>
<rect x="1440" y="338" width="9" height="1" fill="#ff0000" shape-rendering="crispEdges"/>
<rect x="1446.5" y="336.5" width="3" height="4" fill="#fff" stroke="#ff0000" stroke-width="1" shape-rendering="crispEdges"/>
<text x="1452" y="350" font-size="29" fill="#ff0000" text-anchor="start" font-family="Liberation Sans, sans-serif" textLength="94" lengthAdjust="spacingAndGlyphs">130.409</text>
<rect x="0" y="46" width="223" height="68" fill="#fff" shape-rendering="crispEdges"/>
<g shape-rendering="crispEdges">
<linearGradient id="gp" gradientUnits="userSpaceOnUse" x1="0" y1="48" x2="0" y2="112"><stop offset="0" stop-color="#5a5afc"/><stop offset="0.36" stop-color="#3c3ce2"/><stop offset="1" stop-color="#0606a6"/></linearGradient>
<rect x="1" y="48" width="52" height="25" fill="url(#gp)"/>
<rect x="168" y="48" width="52" height="25" fill="url(#gp)"/>
<rect x="1" y="72" width="109" height="40" fill="url(#gp)"/>
<rect x="112" y="72" width="108" height="40" fill="url(#gp)"/>
<rect x="1" y="48" width="52" height="1" fill="#2c2ccc"/>
<rect x="1" y="48" width="1" height="24" fill="#2c2ccc"/>
<rect x="52" y="48" width="1" height="24" fill="#3434d4"/>
<rect x="168" y="48" width="52" height="1" fill="#2c2ccc"/>
<rect x="168" y="48" width="1" height="24" fill="#2c2ccc"/>
<rect x="219" y="48" width="1" height="24" fill="#3434d4"/>
<rect x="1" y="72" width="1" height="40" fill="#1c1cbc"/>
<rect x="112" y="72" width="1" height="40" fill="#1c1cbc"/>
<rect x="5" y="71" width="44" height="1" fill="#1a1aa8"/>
<rect x="172" y="71" width="44" height="1" fill="#1a1aa8"/>
<rect x="5" y="72" width="44" height="1" fill="#8c8cf4"/>
<rect x="172" y="72" width="44" height="1" fill="#8c8cf4"/>
<rect x="55.5" y="48.5" width="110" height="21" fill="#fff" stroke="#a9a9a9"/>
<rect x="56" y="49" width="20" height="20" fill="#e6e6e6"/>
<rect x="76" y="49" width="1" height="20" fill="#b4b4b4"/>
<rect x="145" y="49" width="20" height="20" fill="#e6e6e6"/>
<rect x="144" y="49" width="1" height="20" fill="#b4b4b4"/>
</g>
<polygon points="63,57.5 68.4,57.5 65.7,60.6" fill="#000"/>
<polygon points="152,60.6 157.4,60.6 154.7,57.5" fill="#000"/>
<text x="140.5" y="63" font-size="13" fill="#222" text-anchor="end" font-family="Liberation Sans, sans-serif" >1.00</text>
<text x="26" y="64" font-size="13" fill="#fff" text-anchor="middle" font-family="Liberation Sans, sans-serif" textLength="26" lengthAdjust="spacingAndGlyphs">SELL</text>
<text x="193" y="64" font-size="13" fill="#fff" text-anchor="middle" font-family="Liberation Sans, sans-serif" textLength="23" lengthAdjust="spacingAndGlyphs">BUY</text>
<text x="24.5" y="103" font-size="13" fill="#fff" text-anchor="start" font-family="Liberation Sans, sans-serif" font-weight="700" textLength="21" lengthAdjust="spacingAndGlyphs">129</text>
<text x="48" y="103.5" font-size="34" fill="#fff" text-anchor="start" font-family="Liberation Sans, sans-serif" textLength="36" lengthAdjust="spacingAndGlyphs">96</text>
<text x="88.5" y="86.7" font-size="12" fill="#fff" text-anchor="start" font-family="Liberation Sans, sans-serif" font-weight="700">9</text>
<text x="134.5" y="103" font-size="13" fill="#fff" text-anchor="start" font-family="Liberation Sans, sans-serif" font-weight="700" textLength="21" lengthAdjust="spacingAndGlyphs">130</text>
<text x="159" y="103.5" font-size="34" fill="#fff" text-anchor="start" font-family="Liberation Sans, sans-serif" textLength="34" lengthAdjust="spacingAndGlyphs">01</text>
<text x="199" y="86.7" font-size="12" fill="#fff" text-anchor="start" font-family="Liberation Sans, sans-serif" font-weight="700">2</text>
</g>
<g shape-rendering="crispEdges">
<rect x="0" y="0" width="1673" height="24" fill="#f0f0f0"/>
<rect x="0" y="23" width="1673" height="1" fill="#e2e2e2"/>
<rect x="0" y="24" width="1673" height="1" fill="#a8a8a8"/>
<rect x="0" y="25" width="1673" height="1" fill="#696969"/>
<rect x="261" y="0" width="25" height="23" fill="#f6f6f6"/>
<rect x="261" y="0" width="25" height="1" fill="#a0a0a0"/>
<rect x="261" y="0" width="1" height="22" fill="#a0a0a0"/>
<rect x="413" y="0" width="25" height="23" fill="#f6f6f6"/>
<rect x="413" y="0" width="25" height="1" fill="#a0a0a0"/>
<rect x="413" y="0" width="1" height="22" fill="#a0a0a0"/>
<rect x="441" y="0" width="25" height="23" fill="#f6f6f6"/>
<rect x="441" y="0" width="25" height="1" fill="#a0a0a0"/>
<rect x="441" y="0" width="1" height="22" fill="#a0a0a0"/>
<rect x="601" y="0" width="25" height="23" fill="#f6f6f6"/>
<rect x="601" y="0" width="25" height="1" fill="#a0a0a0"/>
<rect x="601" y="0" width="1" height="22" fill="#a0a0a0"/>
<rect x="1047" y="0" width="25" height="23" fill="#f6f6f6"/>
<rect x="1047" y="0" width="25" height="1" fill="#a0a0a0"/>
<rect x="1047" y="0" width="1" height="22" fill="#a0a0a0"/>
<rect x="223" y="0" width="1" height="24" fill="#a0a0a0"/><rect x="224" y="0" width="1" height="24" fill="#fff"/>
<rect x="591" y="0" width="1" height="24" fill="#a0a0a0"/><rect x="592" y="0" width="1" height="24" fill="#fff"/>
<rect x="897" y="0" width="1" height="24" fill="#a0a0a0"/><rect x="898" y="0" width="1" height="24" fill="#fff"/>
<rect x="318" y="1" width="1" height="21" fill="#a0a0a0"/>
<rect x="408" y="1" width="1" height="21" fill="#a0a0a0"/>
<rect x="470" y="1" width="1" height="21" fill="#a0a0a0"/>
<rect x="658" y="1" width="1" height="21" fill="#a0a0a0"/>
<rect x="1158" y="1" width="1" height="21" fill="#a0a0a0"/>
<rect x="227" y="2" width="3" height="1" fill="#a0a0a0"/>
<rect x="227" y="4" width="3" height="1" fill="#a0a0a0"/>
<rect x="227" y="6" width="3" height="1" fill="#a0a0a0"/>
<rect x="227" y="8" width="3" height="1" fill="#a0a0a0"/>
<rect x="227" y="10" width="3" height="1" fill="#a0a0a0"/>
<rect x="227" y="12" width="3" height="1" fill="#a0a0a0"/>
<rect x="227" y="14" width="3" height="1" fill="#a0a0a0"/>
<rect x="227" y="16" width="3" height="1" fill="#a0a0a0"/>
<rect x="227" y="18" width="3" height="1" fill="#a0a0a0"/>
<rect x="227" y="20" width="3" height="1" fill="#a0a0a0"/>
<rect x="595" y="2" width="3" height="1" fill="#a0a0a0"/>
<rect x="595" y="4" width="3" height="1" fill="#a0a0a0"/>
<rect x="595" y="6" width="3" height="1" fill="#a0a0a0"/>
<rect x="595" y="8" width="3" height="1" fill="#a0a0a0"/>
<rect x="595" y="10" width="3" height="1" fill="#a0a0a0"/>
<rect x="595" y="12" width="3" height="1" fill="#a0a0a0"/>
<rect x="595" y="14" width="3" height="1" fill="#a0a0a0"/>
<rect x="595" y="16" width="3" height="1" fill="#a0a0a0"/>
<rect x="595" y="18" width="3" height="1" fill="#a0a0a0"/>
<rect x="595" y="20" width="3" height="1" fill="#a0a0a0"/>
<rect x="901" y="2" width="3" height="1" fill="#a0a0a0"/>
<rect x="901" y="4" width="3" height="1" fill="#a0a0a0"/>
<rect x="901" y="6" width="3" height="1" fill="#a0a0a0"/>
<rect x="901" y="8" width="3" height="1" fill="#a0a0a0"/>
<rect x="901" y="10" width="3" height="1" fill="#a0a0a0"/>
<rect x="901" y="12" width="3" height="1" fill="#a0a0a0"/>
<rect x="901" y="14" width="3" height="1" fill="#a0a0a0"/>
<rect x="901" y="16" width="3" height="1" fill="#a0a0a0"/>
<rect x="901" y="18" width="3" height="1" fill="#a0a0a0"/>
<rect x="901" y="20" width="3" height="1" fill="#a0a0a0"/>
</g>
<g shape-rendering="auto">
<path d="M-2,4.5H6L9,7.5V15H-2Z" fill="#fdfdfd" stroke="#9a9a9a" stroke-width="1"/>
<path d="M0,8.5H5M0,10.5H5M0,12.5H3" stroke="#b0b0b0" stroke-width="1"/>
<path d="M5.2,10.5H9V14.2H12.7V18H9V21.8H5.2V18H1.5V14.2H5.2Z" fill="#2fcf3a" stroke="#0f8a1c" stroke-width="1"/>
<text x="15.5" y="15" font-size="12" fill="#000" font-family="Liberation Sans, Noto Sans CJK SC, sans-serif" textLength="36.5" lengthAdjust="spacingAndGlyphs">新订单</text>
<defs><linearGradient id="gd" x1="0" y1="0" x2="1" y2="1"><stop offset="0" stop-color="#ffe468"/><stop offset="0.55" stop-color="#f0c020"/><stop offset="1" stop-color="#c88a10"/></linearGradient><linearGradient id="sg" x1="0" y1="0" x2="1" y2="0"><stop offset="0" stop-color="#88a8e0"/><stop offset="0.5" stop-color="#7aa6c8"/><stop offset="1" stop-color="#4aa04a"/></linearGradient></defs>
<path d="M69.8,5 L80.2,13.6 L71.4,20.2 L64,13.6Z" fill="#a8700c"/>
<path d="M69.8,5 L79.4,12.6 L70.8,18.6 L64.2,13.2 Q66,8 69.8,5Z" fill="url(#gd)" stroke="#b8800c" stroke-width="0.7"/>
<path d="M65.5,13.4 L71,17.8 L78,12.8" fill="none" stroke="#fff0a0" stroke-width="0.7" opacity="0.8"/>
<path d="M94.3,6 L99,4.2 L105.7,5.6 V13.4 H94.3Z" fill="#1c86e0" stroke="#1668c0" stroke-width="0.7"/>
<path d="M94.3,6 L99,4.2 V13.4 H94.3Z" fill="#48b0fc"/>
<path d="M100.4,8.2H104.4" stroke="#d8f0ff" stroke-width="1.3"/>
<path d="M95.5,19.6 a2.6,2.6 0 0 1 -0.6,-5.1 a3.2,3.2 0 0 1 5.6,-1.6 a2.8,2.8 0 0 1 4.4,1.2 a2.8,2.8 0 0 1 0.6,5.5Z" fill="#f2f6ff" stroke="#6080c0" stroke-width="1"/>
<path d="M128,12 L134.5,8 A7.5,7.5 0 0 1 128.4,19.6Z" fill="#58b058" opacity="0.55"/>
<circle cx="128" cy="12" r="7.3" fill="none" stroke="url(#sg)" stroke-width="1.2"/>
<circle cx="128" cy="12" r="4.6" fill="none" stroke="url(#sg)" stroke-width="1.2"/>
<path d="M128.4,12V20" stroke="#18a018" stroke-width="1.5"/><circle cx="127.8" cy="11.8" r="1.7" fill="#2858c8"/>
<path d="M148,10.5 L162,11 L157,19 L153,19.5Z" fill="#f8d840" stroke="#d0a010" stroke-width="0.8"/>
<ellipse cx="155" cy="9.2" rx="8" ry="2.6" fill="#4a9ad8"/><path d="M150.5,9 a4.6,4.8 0 0 1 9,0Z" fill="#6ab8e8"/>
<circle cx="159.5" cy="15.8" r="4.1" fill="#d82010"/><rect x="157.9" y="14.2" width="3.2" height="3.2" fill="#fff"/>
<text x="168.3" y="15" font-size="12" fill="#000" font-family="Liberation Sans, Noto Sans CJK SC, sans-serif" textLength="47" lengthAdjust="spacingAndGlyphs">自动交易</text>
<path d="M241.5,7.5V20 M239,17.5H251.5" fill="none" stroke="#505050" stroke-width="1.1"/><path d="M239.7,9 L241.5,6 L243.3,9Z M250.5,15.7 L253,17.5 L250.5,19.3Z" fill="#505050"/>
<path d="M247.5,7V15.8 M247.5,8.5H250.2 M245,14.5H247.5" fill="none" stroke="#1c8c1c" stroke-width="1.4"/>
<path d="M269.5,7.5V20 M267,17.5H279.5" fill="none" stroke="#505050" stroke-width="1.1"/><path d="M267.7,9 L269.5,6 L271.3,9Z M278.5,15.7 L281,17.5 L278.5,19.3Z" fill="#505050"/>
<path d="M275.5,4V16" stroke="#108010" stroke-width="1.2"/><rect x="273.3" y="6.2" width="4.4" height="7.4" fill="#38d838" stroke="#108010" stroke-width="1"/>
<path d="M297.5,7.5V20 M295,17.5H307.5" fill="none" stroke="#505050" stroke-width="1.1"/><path d="M295.7,9 L297.5,6 L299.3,9Z M306.5,15.7 L309,17.5 L306.5,19.3Z" fill="#505050"/>
<path d="M296.3,14.6 C298.5,13.5 300,9.2 302,9.2 C304,9.2 305.5,12.4 307.8,13" fill="none" stroke="#2c9c2c" stroke-width="1.3"/>
<path d="M336.6,14.2 L342,19.2" stroke="#d8a818" stroke-width="3.2" stroke-linecap="round"/>
<circle cx="333" cy="10" r="5.4" fill="#dcf2ff" stroke="#2a7fd4" stroke-width="1.3"/>
<path d="M330,10H336 M333,7V13" stroke="#3a8ac0" stroke-width="1.8"/>
<path d="M364.6,14.2 L370,19.2" stroke="#d8a818" stroke-width="3.2" stroke-linecap="round"/>
<circle cx="361" cy="10" r="5.4" fill="#dcf2ff" stroke="#2a7fd4" stroke-width="1.3"/>
<path d="M358,10H364" stroke="#3a8ac0" stroke-width="1.8"/>
<rect x="383" y="4" width="8" height="8" fill="#3c9c1c"/><path d="M384,7H390V11H388.5V10H385.5V11H384Z" fill="#f6f9ff"/><path d="M385.2,8.6H388.8" stroke="#7cc860" stroke-width="0.9"/><rect x="384" y="5" width="1" height="1" fill="#e8f0ff"/>
<rect x="391" y="4" width="8" height="8" fill="#2454cc"/><path d="M392,7H398V11H396.5V10H393.5V11H392Z" fill="#f6f9ff"/><path d="M393.2,8.6H396.8" stroke="#7c9ce8" stroke-width="0.9"/><rect x="392" y="5" width="1" height="1" fill="#e8f0ff"/>
<rect x="383" y="12" width="8" height="8" fill="#2454cc"/><path d="M384,15H390V19H388.5V18H385.5V19H384Z" fill="#f6f9ff"/><path d="M385.2,16.6H388.8" stroke="#7c9ce8" stroke-width="0.9"/><rect x="384" y="13" width="1" height="1" fill="#e8f0ff"/>
<rect x="391" y="12" width="8" height="8" fill="#3c9c1c"/><path d="M392,15H398V19H396.5V18H393.5V19H392Z" fill="#f6f9ff"/><path d="M393.2,16.6H396.8" stroke="#7cc860" stroke-width="0.9"/><rect x="392" y="13" width="1" height="1" fill="#e8f0ff"/>
<path d="M421.5,7.5V20 M419,17.5H431.5" fill="none" stroke="#505050" stroke-width="1.1"/><path d="M419.7,9 L421.5,6 L423.3,9Z M430.5,15.7 L433,17.5 L430.5,19.3Z" fill="#505050"/>
<path d="M426.3,8.3 L430,11.5 L426.3,14.7Z" fill="#6be06b" stroke="#109010" stroke-width="1.1"/>
<path d="M449.5,7.5V20 M447,17.5H459.5" fill="none" stroke="#505050" stroke-width="1.1"/><path d="M447.7,9 L449.5,6 L451.3,9Z M458.5,15.7 L461,17.5 L458.5,19.3Z" fill="#505050"/>
<path d="M455.5,6V16" stroke="#1a6aa8" stroke-width="1.4"/><path d="M456.6,11.5H461.2 M459.4,9 L456.8,11.5 L459.4,14" fill="none" stroke="#d04000" stroke-width="1.3"/>
<path d="M480.5,4.7H488.5L491.5,7.7V17.5H480.5Z" fill="#fcfcfc" stroke="#a0a0a0" stroke-width="1"/>
<text x="482.5" y="14" font-size="9" font-style="italic" fill="#404040" font-family="Liberation Serif, serif">f</text>
<path d="M488.2,10.4H492V14.2H495.7V18H492V21.8H488.2V18H484.5V14.2H488.2Z" fill="#2fcf3a" stroke="#0f8a1c" stroke-width="1"/>
<path d="M502,11 H507.4 L504.7,14Z" fill="#000"/>
<path d="M541,11 H546.4 L543.7,14Z" fill="#000"/>
<path d="M580,11 H585.4 L582.7,14Z" fill="#000"/>
<path d="M886,11 H891.4 L888.7,14Z" fill="#000"/>
<defs><linearGradient id="ck" x1="0" y1="0" x2="0" y2="1"><stop offset="0" stop-color="#3c94f0"/><stop offset="1" stop-color="#0c50b8"/></linearGradient></defs>
<circle cx="526" cy="12" r="8" fill="url(#ck)"/><circle cx="526" cy="11.6" r="5.6" fill="#eef4fc"/>
<path d="M525.6,12.2V7.6 M525.6,11.8H528.6" stroke="#202020" stroke-width="1.3" fill="none"/>
<path d="M526,6.8v0.8M526,15.6v0.8M521.2,11.6h0.8M530,11.6h0.8" stroke="#8090a8" stroke-width="0.8"/>
<rect x="557.5" y="5.5" width="15" height="13.5" fill="#fff" stroke="#3a78c8" stroke-width="1.2"/><rect x="557.5" y="5.5" width="15" height="2" fill="#5a98e0"/><path d="M558,13.2H572" stroke="#3a78c8" stroke-width="1"/>
<path d="M559.5,11.2 L562,10.6 L564.5,9 L567,10.2 L569.5,9.6 L571,8.8" fill="none" stroke="#a02010" stroke-width="1.3"/>
<path d="M559.5,16.6 L562,15.6 L564,16.4 L567,14.4 L569,15 L571,16.6" fill="none" stroke="#1a901a" stroke-width="1.3"/>
<path d="M609,5 V16.2 L611.7,13.8 L614,19 L615.8,18.1 L613.6,13.1 L617.2,12.5Z" fill="#484848"/>
<path d="M634,12.5H640.3 M642.7,12.5H649 M641.5,5V11.3 M641.5,13.7V20" stroke="#484848" stroke-width="1.4"/>
<path d="M675.5,6V19" stroke="#484848" stroke-width="1.5"/>
<path d="M698,12.5H710.2" stroke="#484848" stroke-width="1.5"/>
<path d="M726,19 L738.2,6.8" stroke="#505050" stroke-width="1.3"/>
<path d="M752,14 L762,5.5 M753.5,18 L766,7.5 M757,19 L766.5,10.5 M754,16 L756,10.5 L758,15.5 L760,8.5 L762,13.5 L763.5,4.5 L764.5,11" fill="none" stroke="#484848" stroke-width="1"/>
<text x="763" y="20.6" font-size="6.5" font-weight="700" fill="#404040" font-family="Liberation Sans, sans-serif">E</text>
<path d="M781,5.5H794.5" stroke="#484848" stroke-width="1" stroke-dasharray="1 1" shape-rendering="crispEdges"/>
<path d="M781,8.5H794.5" stroke="#484848" stroke-width="1" stroke-dasharray="1 1" shape-rendering="crispEdges"/>
<path d="M781,12.5H794.5" stroke="#484848" stroke-width="1" stroke-dasharray="1 1" shape-rendering="crispEdges"/>
<path d="M781,16.5H790" stroke="#484848" stroke-width="1" stroke-dasharray="1 1" shape-rendering="crispEdges"/>
<text x="790.8" y="20.6" font-size="6.5" font-weight="700" fill="#404040" font-family="Liberation Sans, sans-serif">F</text>
<text x="811.3" y="16.8" font-size="12.5" fill="#505050" font-family="Liberation Sans, sans-serif">A</text>
<rect x="838.5" y="6.5" width="11" height="12" fill="none" stroke="#484848" stroke-width="1" stroke-dasharray="1 1" shape-rendering="crispEdges"/>
<text x="844" y="16.8" font-size="11" font-weight="700" text-anchor="middle" fill="#505050" font-family="Liberation Sans, sans-serif">T</text>
<path d="M865.5,9.5 L868.5,6 L871.5,9.5 L868.5,11Z M872.5,15.5 L875.5,19 L878.5,15.5 L875.5,14Z" fill="#484848"/>
<path d="M866.5,13 L869,15.5 L874,10" fill="none" stroke="#484848" stroke-width="1.4"/>
<text x="918.5" y="16.3" font-size="10" text-anchor="middle" fill="#3c3c3c" font-family="Liberation Sans, sans-serif">M1</text>
<text x="946.5" y="16.3" font-size="10" text-anchor="middle" fill="#3c3c3c" font-family="Liberation Sans, sans-serif">M5</text>
<text x="975" y="16.3" font-size="10" text-anchor="middle" fill="#3c3c3c" font-family="Liberation Sans, sans-serif">M15</text>
<text x="1003" y="16.3" font-size="10" text-anchor="middle" fill="#3c3c3c" font-family="Liberation Sans, sans-serif">M30</text>
<text x="1031" y="16.3" font-size="10" text-anchor="middle" fill="#3c3c3c" font-family="Liberation Sans, sans-serif">H1</text>
<text x="1058.5" y="16.3" font-size="10" text-anchor="middle" fill="#3c3c3c" font-family="Liberation Sans, sans-serif">H4</text>
<text x="1087" y="16.3" font-size="10" text-anchor="middle" fill="#3c3c3c" font-family="Liberation Sans, sans-serif">D1</text>
<text x="1116" y="16.3" font-size="10" text-anchor="middle" fill="#3c3c3c" font-family="Liberation Sans, sans-serif">W1</text>
<text x="1142.5" y="16.3" font-size="10" text-anchor="middle" fill="#3c3c3c" font-family="Liberation Sans, sans-serif">MN</text>
<path d="M1625.8,12.6 L1621.2,16.8" stroke="#2458d8" stroke-width="2.6" stroke-linecap="round"/><circle cx="1628.6" cy="9.4" r="4" fill="#fdfdff" stroke="#2458d8" stroke-width="1.5"/>
<path d="M1664.5,13 L1665.3,16 L1662,13.4Z" fill="#808080"/><ellipse cx="1661" cy="9" rx="6.6" ry="4.7" fill="#f8f8fa" stroke="#a4a4a4" stroke-width="1"/>
<path d="M1649.5,16 L1649.3,19 L1652,16.6Z" fill="#808080"/><ellipse cx="1652.4" cy="13.1" rx="5.1" ry="3.9" fill="#f4f4f8" stroke="#a4a4a4" stroke-width="1"/>
</g>
</svg>
</body></html>
